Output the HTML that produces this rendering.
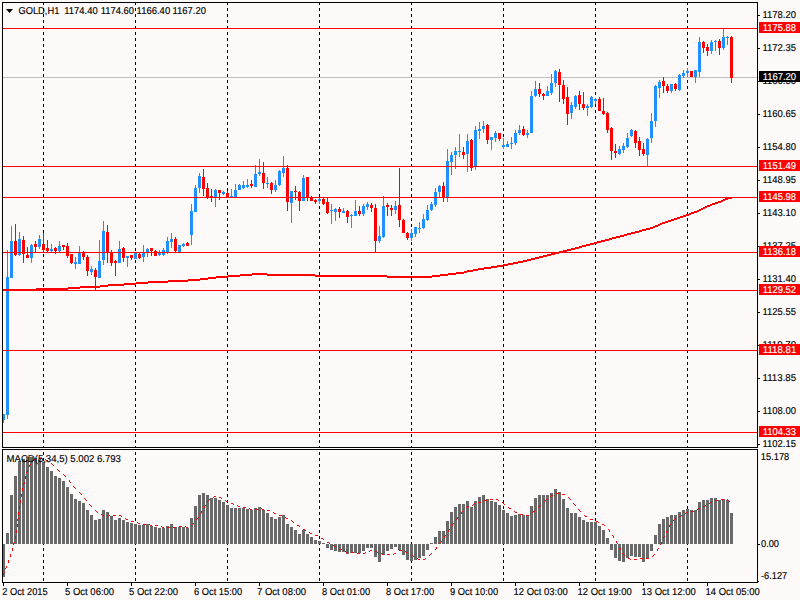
<!DOCTYPE html>
<html><head><meta charset="utf-8"><style>html,body{margin:0;padding:0;background:#fffafa;width:800px;height:600px;overflow:hidden}svg{display:block}</style></head>
<body><svg width="800" height="600" viewBox="0 0 800 600" shape-rendering="crispEdges">
<rect x="0" y="0" width="800" height="600" fill="#fffafa"/>
<rect x="43" y="3" width="1" height="2" fill="#000"/>
<rect x="43" y="8" width="1" height="3" fill="#000"/>
<rect x="43" y="14" width="1" height="3" fill="#000"/>
<rect x="43" y="20" width="1" height="3" fill="#000"/>
<rect x="43" y="26" width="1" height="3" fill="#000"/>
<rect x="43" y="32" width="1" height="3" fill="#000"/>
<rect x="43" y="38" width="1" height="3" fill="#000"/>
<rect x="43" y="44" width="1" height="3" fill="#000"/>
<rect x="43" y="50" width="1" height="3" fill="#000"/>
<rect x="43" y="56" width="1" height="3" fill="#000"/>
<rect x="43" y="62" width="1" height="3" fill="#000"/>
<rect x="43" y="68" width="1" height="3" fill="#000"/>
<rect x="43" y="74" width="1" height="3" fill="#000"/>
<rect x="43" y="80" width="1" height="3" fill="#000"/>
<rect x="43" y="86" width="1" height="3" fill="#000"/>
<rect x="43" y="92" width="1" height="3" fill="#000"/>
<rect x="43" y="98" width="1" height="3" fill="#000"/>
<rect x="43" y="104" width="1" height="3" fill="#000"/>
<rect x="43" y="110" width="1" height="3" fill="#000"/>
<rect x="43" y="116" width="1" height="3" fill="#000"/>
<rect x="43" y="122" width="1" height="3" fill="#000"/>
<rect x="43" y="128" width="1" height="3" fill="#000"/>
<rect x="43" y="134" width="1" height="3" fill="#000"/>
<rect x="43" y="140" width="1" height="3" fill="#000"/>
<rect x="43" y="146" width="1" height="3" fill="#000"/>
<rect x="43" y="152" width="1" height="3" fill="#000"/>
<rect x="43" y="158" width="1" height="3" fill="#000"/>
<rect x="43" y="164" width="1" height="3" fill="#000"/>
<rect x="43" y="170" width="1" height="3" fill="#000"/>
<rect x="43" y="176" width="1" height="3" fill="#000"/>
<rect x="43" y="182" width="1" height="3" fill="#000"/>
<rect x="43" y="188" width="1" height="3" fill="#000"/>
<rect x="43" y="194" width="1" height="3" fill="#000"/>
<rect x="43" y="200" width="1" height="3" fill="#000"/>
<rect x="43" y="206" width="1" height="3" fill="#000"/>
<rect x="43" y="212" width="1" height="3" fill="#000"/>
<rect x="43" y="218" width="1" height="3" fill="#000"/>
<rect x="43" y="224" width="1" height="3" fill="#000"/>
<rect x="43" y="230" width="1" height="3" fill="#000"/>
<rect x="43" y="236" width="1" height="3" fill="#000"/>
<rect x="43" y="242" width="1" height="3" fill="#000"/>
<rect x="43" y="248" width="1" height="3" fill="#000"/>
<rect x="43" y="254" width="1" height="3" fill="#000"/>
<rect x="43" y="260" width="1" height="3" fill="#000"/>
<rect x="43" y="266" width="1" height="3" fill="#000"/>
<rect x="43" y="272" width="1" height="3" fill="#000"/>
<rect x="43" y="278" width="1" height="3" fill="#000"/>
<rect x="43" y="284" width="1" height="3" fill="#000"/>
<rect x="43" y="290" width="1" height="3" fill="#000"/>
<rect x="43" y="296" width="1" height="3" fill="#000"/>
<rect x="43" y="302" width="1" height="3" fill="#000"/>
<rect x="43" y="308" width="1" height="3" fill="#000"/>
<rect x="43" y="314" width="1" height="3" fill="#000"/>
<rect x="43" y="320" width="1" height="3" fill="#000"/>
<rect x="43" y="326" width="1" height="3" fill="#000"/>
<rect x="43" y="332" width="1" height="3" fill="#000"/>
<rect x="43" y="338" width="1" height="3" fill="#000"/>
<rect x="43" y="344" width="1" height="3" fill="#000"/>
<rect x="43" y="350" width="1" height="3" fill="#000"/>
<rect x="43" y="356" width="1" height="3" fill="#000"/>
<rect x="43" y="362" width="1" height="3" fill="#000"/>
<rect x="43" y="368" width="1" height="3" fill="#000"/>
<rect x="43" y="374" width="1" height="3" fill="#000"/>
<rect x="43" y="380" width="1" height="3" fill="#000"/>
<rect x="43" y="386" width="1" height="3" fill="#000"/>
<rect x="43" y="392" width="1" height="3" fill="#000"/>
<rect x="43" y="398" width="1" height="3" fill="#000"/>
<rect x="43" y="404" width="1" height="3" fill="#000"/>
<rect x="43" y="410" width="1" height="3" fill="#000"/>
<rect x="43" y="416" width="1" height="3" fill="#000"/>
<rect x="43" y="422" width="1" height="3" fill="#000"/>
<rect x="43" y="428" width="1" height="3" fill="#000"/>
<rect x="43" y="434" width="1" height="3" fill="#000"/>
<rect x="43" y="440" width="1" height="3" fill="#000"/>
<rect x="43" y="446" width="1" height="1" fill="#000"/>
<rect x="43" y="452" width="1" height="3" fill="#000"/>
<rect x="43" y="458" width="1" height="3" fill="#000"/>
<rect x="43" y="464" width="1" height="3" fill="#000"/>
<rect x="43" y="470" width="1" height="3" fill="#000"/>
<rect x="43" y="476" width="1" height="3" fill="#000"/>
<rect x="43" y="482" width="1" height="3" fill="#000"/>
<rect x="43" y="488" width="1" height="3" fill="#000"/>
<rect x="43" y="494" width="1" height="3" fill="#000"/>
<rect x="43" y="500" width="1" height="3" fill="#000"/>
<rect x="43" y="506" width="1" height="3" fill="#000"/>
<rect x="43" y="512" width="1" height="3" fill="#000"/>
<rect x="43" y="518" width="1" height="3" fill="#000"/>
<rect x="43" y="524" width="1" height="3" fill="#000"/>
<rect x="43" y="530" width="1" height="3" fill="#000"/>
<rect x="43" y="536" width="1" height="3" fill="#000"/>
<rect x="43" y="542" width="1" height="3" fill="#000"/>
<rect x="43" y="548" width="1" height="3" fill="#000"/>
<rect x="43" y="554" width="1" height="3" fill="#000"/>
<rect x="43" y="560" width="1" height="3" fill="#000"/>
<rect x="43" y="566" width="1" height="3" fill="#000"/>
<rect x="43" y="572" width="1" height="3" fill="#000"/>
<rect x="43" y="578" width="1" height="3" fill="#000"/>
<rect x="135" y="3" width="1" height="2" fill="#000"/>
<rect x="135" y="8" width="1" height="3" fill="#000"/>
<rect x="135" y="14" width="1" height="3" fill="#000"/>
<rect x="135" y="20" width="1" height="3" fill="#000"/>
<rect x="135" y="26" width="1" height="3" fill="#000"/>
<rect x="135" y="32" width="1" height="3" fill="#000"/>
<rect x="135" y="38" width="1" height="3" fill="#000"/>
<rect x="135" y="44" width="1" height="3" fill="#000"/>
<rect x="135" y="50" width="1" height="3" fill="#000"/>
<rect x="135" y="56" width="1" height="3" fill="#000"/>
<rect x="135" y="62" width="1" height="3" fill="#000"/>
<rect x="135" y="68" width="1" height="3" fill="#000"/>
<rect x="135" y="74" width="1" height="3" fill="#000"/>
<rect x="135" y="80" width="1" height="3" fill="#000"/>
<rect x="135" y="86" width="1" height="3" fill="#000"/>
<rect x="135" y="92" width="1" height="3" fill="#000"/>
<rect x="135" y="98" width="1" height="3" fill="#000"/>
<rect x="135" y="104" width="1" height="3" fill="#000"/>
<rect x="135" y="110" width="1" height="3" fill="#000"/>
<rect x="135" y="116" width="1" height="3" fill="#000"/>
<rect x="135" y="122" width="1" height="3" fill="#000"/>
<rect x="135" y="128" width="1" height="3" fill="#000"/>
<rect x="135" y="134" width="1" height="3" fill="#000"/>
<rect x="135" y="140" width="1" height="3" fill="#000"/>
<rect x="135" y="146" width="1" height="3" fill="#000"/>
<rect x="135" y="152" width="1" height="3" fill="#000"/>
<rect x="135" y="158" width="1" height="3" fill="#000"/>
<rect x="135" y="164" width="1" height="3" fill="#000"/>
<rect x="135" y="170" width="1" height="3" fill="#000"/>
<rect x="135" y="176" width="1" height="3" fill="#000"/>
<rect x="135" y="182" width="1" height="3" fill="#000"/>
<rect x="135" y="188" width="1" height="3" fill="#000"/>
<rect x="135" y="194" width="1" height="3" fill="#000"/>
<rect x="135" y="200" width="1" height="3" fill="#000"/>
<rect x="135" y="206" width="1" height="3" fill="#000"/>
<rect x="135" y="212" width="1" height="3" fill="#000"/>
<rect x="135" y="218" width="1" height="3" fill="#000"/>
<rect x="135" y="224" width="1" height="3" fill="#000"/>
<rect x="135" y="230" width="1" height="3" fill="#000"/>
<rect x="135" y="236" width="1" height="3" fill="#000"/>
<rect x="135" y="242" width="1" height="3" fill="#000"/>
<rect x="135" y="248" width="1" height="3" fill="#000"/>
<rect x="135" y="254" width="1" height="3" fill="#000"/>
<rect x="135" y="260" width="1" height="3" fill="#000"/>
<rect x="135" y="266" width="1" height="3" fill="#000"/>
<rect x="135" y="272" width="1" height="3" fill="#000"/>
<rect x="135" y="278" width="1" height="3" fill="#000"/>
<rect x="135" y="284" width="1" height="3" fill="#000"/>
<rect x="135" y="290" width="1" height="3" fill="#000"/>
<rect x="135" y="296" width="1" height="3" fill="#000"/>
<rect x="135" y="302" width="1" height="3" fill="#000"/>
<rect x="135" y="308" width="1" height="3" fill="#000"/>
<rect x="135" y="314" width="1" height="3" fill="#000"/>
<rect x="135" y="320" width="1" height="3" fill="#000"/>
<rect x="135" y="326" width="1" height="3" fill="#000"/>
<rect x="135" y="332" width="1" height="3" fill="#000"/>
<rect x="135" y="338" width="1" height="3" fill="#000"/>
<rect x="135" y="344" width="1" height="3" fill="#000"/>
<rect x="135" y="350" width="1" height="3" fill="#000"/>
<rect x="135" y="356" width="1" height="3" fill="#000"/>
<rect x="135" y="362" width="1" height="3" fill="#000"/>
<rect x="135" y="368" width="1" height="3" fill="#000"/>
<rect x="135" y="374" width="1" height="3" fill="#000"/>
<rect x="135" y="380" width="1" height="3" fill="#000"/>
<rect x="135" y="386" width="1" height="3" fill="#000"/>
<rect x="135" y="392" width="1" height="3" fill="#000"/>
<rect x="135" y="398" width="1" height="3" fill="#000"/>
<rect x="135" y="404" width="1" height="3" fill="#000"/>
<rect x="135" y="410" width="1" height="3" fill="#000"/>
<rect x="135" y="416" width="1" height="3" fill="#000"/>
<rect x="135" y="422" width="1" height="3" fill="#000"/>
<rect x="135" y="428" width="1" height="3" fill="#000"/>
<rect x="135" y="434" width="1" height="3" fill="#000"/>
<rect x="135" y="440" width="1" height="3" fill="#000"/>
<rect x="135" y="446" width="1" height="1" fill="#000"/>
<rect x="135" y="452" width="1" height="3" fill="#000"/>
<rect x="135" y="458" width="1" height="3" fill="#000"/>
<rect x="135" y="464" width="1" height="3" fill="#000"/>
<rect x="135" y="470" width="1" height="3" fill="#000"/>
<rect x="135" y="476" width="1" height="3" fill="#000"/>
<rect x="135" y="482" width="1" height="3" fill="#000"/>
<rect x="135" y="488" width="1" height="3" fill="#000"/>
<rect x="135" y="494" width="1" height="3" fill="#000"/>
<rect x="135" y="500" width="1" height="3" fill="#000"/>
<rect x="135" y="506" width="1" height="3" fill="#000"/>
<rect x="135" y="512" width="1" height="3" fill="#000"/>
<rect x="135" y="518" width="1" height="3" fill="#000"/>
<rect x="135" y="524" width="1" height="3" fill="#000"/>
<rect x="135" y="530" width="1" height="3" fill="#000"/>
<rect x="135" y="536" width="1" height="3" fill="#000"/>
<rect x="135" y="542" width="1" height="3" fill="#000"/>
<rect x="135" y="548" width="1" height="3" fill="#000"/>
<rect x="135" y="554" width="1" height="3" fill="#000"/>
<rect x="135" y="560" width="1" height="3" fill="#000"/>
<rect x="135" y="566" width="1" height="3" fill="#000"/>
<rect x="135" y="572" width="1" height="3" fill="#000"/>
<rect x="135" y="578" width="1" height="3" fill="#000"/>
<rect x="227" y="3" width="1" height="2" fill="#000"/>
<rect x="227" y="8" width="1" height="3" fill="#000"/>
<rect x="227" y="14" width="1" height="3" fill="#000"/>
<rect x="227" y="20" width="1" height="3" fill="#000"/>
<rect x="227" y="26" width="1" height="3" fill="#000"/>
<rect x="227" y="32" width="1" height="3" fill="#000"/>
<rect x="227" y="38" width="1" height="3" fill="#000"/>
<rect x="227" y="44" width="1" height="3" fill="#000"/>
<rect x="227" y="50" width="1" height="3" fill="#000"/>
<rect x="227" y="56" width="1" height="3" fill="#000"/>
<rect x="227" y="62" width="1" height="3" fill="#000"/>
<rect x="227" y="68" width="1" height="3" fill="#000"/>
<rect x="227" y="74" width="1" height="3" fill="#000"/>
<rect x="227" y="80" width="1" height="3" fill="#000"/>
<rect x="227" y="86" width="1" height="3" fill="#000"/>
<rect x="227" y="92" width="1" height="3" fill="#000"/>
<rect x="227" y="98" width="1" height="3" fill="#000"/>
<rect x="227" y="104" width="1" height="3" fill="#000"/>
<rect x="227" y="110" width="1" height="3" fill="#000"/>
<rect x="227" y="116" width="1" height="3" fill="#000"/>
<rect x="227" y="122" width="1" height="3" fill="#000"/>
<rect x="227" y="128" width="1" height="3" fill="#000"/>
<rect x="227" y="134" width="1" height="3" fill="#000"/>
<rect x="227" y="140" width="1" height="3" fill="#000"/>
<rect x="227" y="146" width="1" height="3" fill="#000"/>
<rect x="227" y="152" width="1" height="3" fill="#000"/>
<rect x="227" y="158" width="1" height="3" fill="#000"/>
<rect x="227" y="164" width="1" height="3" fill="#000"/>
<rect x="227" y="170" width="1" height="3" fill="#000"/>
<rect x="227" y="176" width="1" height="3" fill="#000"/>
<rect x="227" y="182" width="1" height="3" fill="#000"/>
<rect x="227" y="188" width="1" height="3" fill="#000"/>
<rect x="227" y="194" width="1" height="3" fill="#000"/>
<rect x="227" y="200" width="1" height="3" fill="#000"/>
<rect x="227" y="206" width="1" height="3" fill="#000"/>
<rect x="227" y="212" width="1" height="3" fill="#000"/>
<rect x="227" y="218" width="1" height="3" fill="#000"/>
<rect x="227" y="224" width="1" height="3" fill="#000"/>
<rect x="227" y="230" width="1" height="3" fill="#000"/>
<rect x="227" y="236" width="1" height="3" fill="#000"/>
<rect x="227" y="242" width="1" height="3" fill="#000"/>
<rect x="227" y="248" width="1" height="3" fill="#000"/>
<rect x="227" y="254" width="1" height="3" fill="#000"/>
<rect x="227" y="260" width="1" height="3" fill="#000"/>
<rect x="227" y="266" width="1" height="3" fill="#000"/>
<rect x="227" y="272" width="1" height="3" fill="#000"/>
<rect x="227" y="278" width="1" height="3" fill="#000"/>
<rect x="227" y="284" width="1" height="3" fill="#000"/>
<rect x="227" y="290" width="1" height="3" fill="#000"/>
<rect x="227" y="296" width="1" height="3" fill="#000"/>
<rect x="227" y="302" width="1" height="3" fill="#000"/>
<rect x="227" y="308" width="1" height="3" fill="#000"/>
<rect x="227" y="314" width="1" height="3" fill="#000"/>
<rect x="227" y="320" width="1" height="3" fill="#000"/>
<rect x="227" y="326" width="1" height="3" fill="#000"/>
<rect x="227" y="332" width="1" height="3" fill="#000"/>
<rect x="227" y="338" width="1" height="3" fill="#000"/>
<rect x="227" y="344" width="1" height="3" fill="#000"/>
<rect x="227" y="350" width="1" height="3" fill="#000"/>
<rect x="227" y="356" width="1" height="3" fill="#000"/>
<rect x="227" y="362" width="1" height="3" fill="#000"/>
<rect x="227" y="368" width="1" height="3" fill="#000"/>
<rect x="227" y="374" width="1" height="3" fill="#000"/>
<rect x="227" y="380" width="1" height="3" fill="#000"/>
<rect x="227" y="386" width="1" height="3" fill="#000"/>
<rect x="227" y="392" width="1" height="3" fill="#000"/>
<rect x="227" y="398" width="1" height="3" fill="#000"/>
<rect x="227" y="404" width="1" height="3" fill="#000"/>
<rect x="227" y="410" width="1" height="3" fill="#000"/>
<rect x="227" y="416" width="1" height="3" fill="#000"/>
<rect x="227" y="422" width="1" height="3" fill="#000"/>
<rect x="227" y="428" width="1" height="3" fill="#000"/>
<rect x="227" y="434" width="1" height="3" fill="#000"/>
<rect x="227" y="440" width="1" height="3" fill="#000"/>
<rect x="227" y="446" width="1" height="1" fill="#000"/>
<rect x="227" y="452" width="1" height="3" fill="#000"/>
<rect x="227" y="458" width="1" height="3" fill="#000"/>
<rect x="227" y="464" width="1" height="3" fill="#000"/>
<rect x="227" y="470" width="1" height="3" fill="#000"/>
<rect x="227" y="476" width="1" height="3" fill="#000"/>
<rect x="227" y="482" width="1" height="3" fill="#000"/>
<rect x="227" y="488" width="1" height="3" fill="#000"/>
<rect x="227" y="494" width="1" height="3" fill="#000"/>
<rect x="227" y="500" width="1" height="3" fill="#000"/>
<rect x="227" y="506" width="1" height="3" fill="#000"/>
<rect x="227" y="512" width="1" height="3" fill="#000"/>
<rect x="227" y="518" width="1" height="3" fill="#000"/>
<rect x="227" y="524" width="1" height="3" fill="#000"/>
<rect x="227" y="530" width="1" height="3" fill="#000"/>
<rect x="227" y="536" width="1" height="3" fill="#000"/>
<rect x="227" y="542" width="1" height="3" fill="#000"/>
<rect x="227" y="548" width="1" height="3" fill="#000"/>
<rect x="227" y="554" width="1" height="3" fill="#000"/>
<rect x="227" y="560" width="1" height="3" fill="#000"/>
<rect x="227" y="566" width="1" height="3" fill="#000"/>
<rect x="227" y="572" width="1" height="3" fill="#000"/>
<rect x="227" y="578" width="1" height="3" fill="#000"/>
<rect x="319" y="3" width="1" height="2" fill="#000"/>
<rect x="319" y="8" width="1" height="3" fill="#000"/>
<rect x="319" y="14" width="1" height="3" fill="#000"/>
<rect x="319" y="20" width="1" height="3" fill="#000"/>
<rect x="319" y="26" width="1" height="3" fill="#000"/>
<rect x="319" y="32" width="1" height="3" fill="#000"/>
<rect x="319" y="38" width="1" height="3" fill="#000"/>
<rect x="319" y="44" width="1" height="3" fill="#000"/>
<rect x="319" y="50" width="1" height="3" fill="#000"/>
<rect x="319" y="56" width="1" height="3" fill="#000"/>
<rect x="319" y="62" width="1" height="3" fill="#000"/>
<rect x="319" y="68" width="1" height="3" fill="#000"/>
<rect x="319" y="74" width="1" height="3" fill="#000"/>
<rect x="319" y="80" width="1" height="3" fill="#000"/>
<rect x="319" y="86" width="1" height="3" fill="#000"/>
<rect x="319" y="92" width="1" height="3" fill="#000"/>
<rect x="319" y="98" width="1" height="3" fill="#000"/>
<rect x="319" y="104" width="1" height="3" fill="#000"/>
<rect x="319" y="110" width="1" height="3" fill="#000"/>
<rect x="319" y="116" width="1" height="3" fill="#000"/>
<rect x="319" y="122" width="1" height="3" fill="#000"/>
<rect x="319" y="128" width="1" height="3" fill="#000"/>
<rect x="319" y="134" width="1" height="3" fill="#000"/>
<rect x="319" y="140" width="1" height="3" fill="#000"/>
<rect x="319" y="146" width="1" height="3" fill="#000"/>
<rect x="319" y="152" width="1" height="3" fill="#000"/>
<rect x="319" y="158" width="1" height="3" fill="#000"/>
<rect x="319" y="164" width="1" height="3" fill="#000"/>
<rect x="319" y="170" width="1" height="3" fill="#000"/>
<rect x="319" y="176" width="1" height="3" fill="#000"/>
<rect x="319" y="182" width="1" height="3" fill="#000"/>
<rect x="319" y="188" width="1" height="3" fill="#000"/>
<rect x="319" y="194" width="1" height="3" fill="#000"/>
<rect x="319" y="200" width="1" height="3" fill="#000"/>
<rect x="319" y="206" width="1" height="3" fill="#000"/>
<rect x="319" y="212" width="1" height="3" fill="#000"/>
<rect x="319" y="218" width="1" height="3" fill="#000"/>
<rect x="319" y="224" width="1" height="3" fill="#000"/>
<rect x="319" y="230" width="1" height="3" fill="#000"/>
<rect x="319" y="236" width="1" height="3" fill="#000"/>
<rect x="319" y="242" width="1" height="3" fill="#000"/>
<rect x="319" y="248" width="1" height="3" fill="#000"/>
<rect x="319" y="254" width="1" height="3" fill="#000"/>
<rect x="319" y="260" width="1" height="3" fill="#000"/>
<rect x="319" y="266" width="1" height="3" fill="#000"/>
<rect x="319" y="272" width="1" height="3" fill="#000"/>
<rect x="319" y="278" width="1" height="3" fill="#000"/>
<rect x="319" y="284" width="1" height="3" fill="#000"/>
<rect x="319" y="290" width="1" height="3" fill="#000"/>
<rect x="319" y="296" width="1" height="3" fill="#000"/>
<rect x="319" y="302" width="1" height="3" fill="#000"/>
<rect x="319" y="308" width="1" height="3" fill="#000"/>
<rect x="319" y="314" width="1" height="3" fill="#000"/>
<rect x="319" y="320" width="1" height="3" fill="#000"/>
<rect x="319" y="326" width="1" height="3" fill="#000"/>
<rect x="319" y="332" width="1" height="3" fill="#000"/>
<rect x="319" y="338" width="1" height="3" fill="#000"/>
<rect x="319" y="344" width="1" height="3" fill="#000"/>
<rect x="319" y="350" width="1" height="3" fill="#000"/>
<rect x="319" y="356" width="1" height="3" fill="#000"/>
<rect x="319" y="362" width="1" height="3" fill="#000"/>
<rect x="319" y="368" width="1" height="3" fill="#000"/>
<rect x="319" y="374" width="1" height="3" fill="#000"/>
<rect x="319" y="380" width="1" height="3" fill="#000"/>
<rect x="319" y="386" width="1" height="3" fill="#000"/>
<rect x="319" y="392" width="1" height="3" fill="#000"/>
<rect x="319" y="398" width="1" height="3" fill="#000"/>
<rect x="319" y="404" width="1" height="3" fill="#000"/>
<rect x="319" y="410" width="1" height="3" fill="#000"/>
<rect x="319" y="416" width="1" height="3" fill="#000"/>
<rect x="319" y="422" width="1" height="3" fill="#000"/>
<rect x="319" y="428" width="1" height="3" fill="#000"/>
<rect x="319" y="434" width="1" height="3" fill="#000"/>
<rect x="319" y="440" width="1" height="3" fill="#000"/>
<rect x="319" y="446" width="1" height="1" fill="#000"/>
<rect x="319" y="452" width="1" height="3" fill="#000"/>
<rect x="319" y="458" width="1" height="3" fill="#000"/>
<rect x="319" y="464" width="1" height="3" fill="#000"/>
<rect x="319" y="470" width="1" height="3" fill="#000"/>
<rect x="319" y="476" width="1" height="3" fill="#000"/>
<rect x="319" y="482" width="1" height="3" fill="#000"/>
<rect x="319" y="488" width="1" height="3" fill="#000"/>
<rect x="319" y="494" width="1" height="3" fill="#000"/>
<rect x="319" y="500" width="1" height="3" fill="#000"/>
<rect x="319" y="506" width="1" height="3" fill="#000"/>
<rect x="319" y="512" width="1" height="3" fill="#000"/>
<rect x="319" y="518" width="1" height="3" fill="#000"/>
<rect x="319" y="524" width="1" height="3" fill="#000"/>
<rect x="319" y="530" width="1" height="3" fill="#000"/>
<rect x="319" y="536" width="1" height="3" fill="#000"/>
<rect x="319" y="542" width="1" height="3" fill="#000"/>
<rect x="319" y="548" width="1" height="3" fill="#000"/>
<rect x="319" y="554" width="1" height="3" fill="#000"/>
<rect x="319" y="560" width="1" height="3" fill="#000"/>
<rect x="319" y="566" width="1" height="3" fill="#000"/>
<rect x="319" y="572" width="1" height="3" fill="#000"/>
<rect x="319" y="578" width="1" height="3" fill="#000"/>
<rect x="411" y="3" width="1" height="2" fill="#000"/>
<rect x="411" y="8" width="1" height="3" fill="#000"/>
<rect x="411" y="14" width="1" height="3" fill="#000"/>
<rect x="411" y="20" width="1" height="3" fill="#000"/>
<rect x="411" y="26" width="1" height="3" fill="#000"/>
<rect x="411" y="32" width="1" height="3" fill="#000"/>
<rect x="411" y="38" width="1" height="3" fill="#000"/>
<rect x="411" y="44" width="1" height="3" fill="#000"/>
<rect x="411" y="50" width="1" height="3" fill="#000"/>
<rect x="411" y="56" width="1" height="3" fill="#000"/>
<rect x="411" y="62" width="1" height="3" fill="#000"/>
<rect x="411" y="68" width="1" height="3" fill="#000"/>
<rect x="411" y="74" width="1" height="3" fill="#000"/>
<rect x="411" y="80" width="1" height="3" fill="#000"/>
<rect x="411" y="86" width="1" height="3" fill="#000"/>
<rect x="411" y="92" width="1" height="3" fill="#000"/>
<rect x="411" y="98" width="1" height="3" fill="#000"/>
<rect x="411" y="104" width="1" height="3" fill="#000"/>
<rect x="411" y="110" width="1" height="3" fill="#000"/>
<rect x="411" y="116" width="1" height="3" fill="#000"/>
<rect x="411" y="122" width="1" height="3" fill="#000"/>
<rect x="411" y="128" width="1" height="3" fill="#000"/>
<rect x="411" y="134" width="1" height="3" fill="#000"/>
<rect x="411" y="140" width="1" height="3" fill="#000"/>
<rect x="411" y="146" width="1" height="3" fill="#000"/>
<rect x="411" y="152" width="1" height="3" fill="#000"/>
<rect x="411" y="158" width="1" height="3" fill="#000"/>
<rect x="411" y="164" width="1" height="3" fill="#000"/>
<rect x="411" y="170" width="1" height="3" fill="#000"/>
<rect x="411" y="176" width="1" height="3" fill="#000"/>
<rect x="411" y="182" width="1" height="3" fill="#000"/>
<rect x="411" y="188" width="1" height="3" fill="#000"/>
<rect x="411" y="194" width="1" height="3" fill="#000"/>
<rect x="411" y="200" width="1" height="3" fill="#000"/>
<rect x="411" y="206" width="1" height="3" fill="#000"/>
<rect x="411" y="212" width="1" height="3" fill="#000"/>
<rect x="411" y="218" width="1" height="3" fill="#000"/>
<rect x="411" y="224" width="1" height="3" fill="#000"/>
<rect x="411" y="230" width="1" height="3" fill="#000"/>
<rect x="411" y="236" width="1" height="3" fill="#000"/>
<rect x="411" y="242" width="1" height="3" fill="#000"/>
<rect x="411" y="248" width="1" height="3" fill="#000"/>
<rect x="411" y="254" width="1" height="3" fill="#000"/>
<rect x="411" y="260" width="1" height="3" fill="#000"/>
<rect x="411" y="266" width="1" height="3" fill="#000"/>
<rect x="411" y="272" width="1" height="3" fill="#000"/>
<rect x="411" y="278" width="1" height="3" fill="#000"/>
<rect x="411" y="284" width="1" height="3" fill="#000"/>
<rect x="411" y="290" width="1" height="3" fill="#000"/>
<rect x="411" y="296" width="1" height="3" fill="#000"/>
<rect x="411" y="302" width="1" height="3" fill="#000"/>
<rect x="411" y="308" width="1" height="3" fill="#000"/>
<rect x="411" y="314" width="1" height="3" fill="#000"/>
<rect x="411" y="320" width="1" height="3" fill="#000"/>
<rect x="411" y="326" width="1" height="3" fill="#000"/>
<rect x="411" y="332" width="1" height="3" fill="#000"/>
<rect x="411" y="338" width="1" height="3" fill="#000"/>
<rect x="411" y="344" width="1" height="3" fill="#000"/>
<rect x="411" y="350" width="1" height="3" fill="#000"/>
<rect x="411" y="356" width="1" height="3" fill="#000"/>
<rect x="411" y="362" width="1" height="3" fill="#000"/>
<rect x="411" y="368" width="1" height="3" fill="#000"/>
<rect x="411" y="374" width="1" height="3" fill="#000"/>
<rect x="411" y="380" width="1" height="3" fill="#000"/>
<rect x="411" y="386" width="1" height="3" fill="#000"/>
<rect x="411" y="392" width="1" height="3" fill="#000"/>
<rect x="411" y="398" width="1" height="3" fill="#000"/>
<rect x="411" y="404" width="1" height="3" fill="#000"/>
<rect x="411" y="410" width="1" height="3" fill="#000"/>
<rect x="411" y="416" width="1" height="3" fill="#000"/>
<rect x="411" y="422" width="1" height="3" fill="#000"/>
<rect x="411" y="428" width="1" height="3" fill="#000"/>
<rect x="411" y="434" width="1" height="3" fill="#000"/>
<rect x="411" y="440" width="1" height="3" fill="#000"/>
<rect x="411" y="446" width="1" height="1" fill="#000"/>
<rect x="411" y="452" width="1" height="3" fill="#000"/>
<rect x="411" y="458" width="1" height="3" fill="#000"/>
<rect x="411" y="464" width="1" height="3" fill="#000"/>
<rect x="411" y="470" width="1" height="3" fill="#000"/>
<rect x="411" y="476" width="1" height="3" fill="#000"/>
<rect x="411" y="482" width="1" height="3" fill="#000"/>
<rect x="411" y="488" width="1" height="3" fill="#000"/>
<rect x="411" y="494" width="1" height="3" fill="#000"/>
<rect x="411" y="500" width="1" height="3" fill="#000"/>
<rect x="411" y="506" width="1" height="3" fill="#000"/>
<rect x="411" y="512" width="1" height="3" fill="#000"/>
<rect x="411" y="518" width="1" height="3" fill="#000"/>
<rect x="411" y="524" width="1" height="3" fill="#000"/>
<rect x="411" y="530" width="1" height="3" fill="#000"/>
<rect x="411" y="536" width="1" height="3" fill="#000"/>
<rect x="411" y="542" width="1" height="3" fill="#000"/>
<rect x="411" y="548" width="1" height="3" fill="#000"/>
<rect x="411" y="554" width="1" height="3" fill="#000"/>
<rect x="411" y="560" width="1" height="3" fill="#000"/>
<rect x="411" y="566" width="1" height="3" fill="#000"/>
<rect x="411" y="572" width="1" height="3" fill="#000"/>
<rect x="411" y="578" width="1" height="3" fill="#000"/>
<rect x="503" y="3" width="1" height="2" fill="#000"/>
<rect x="503" y="8" width="1" height="3" fill="#000"/>
<rect x="503" y="14" width="1" height="3" fill="#000"/>
<rect x="503" y="20" width="1" height="3" fill="#000"/>
<rect x="503" y="26" width="1" height="3" fill="#000"/>
<rect x="503" y="32" width="1" height="3" fill="#000"/>
<rect x="503" y="38" width="1" height="3" fill="#000"/>
<rect x="503" y="44" width="1" height="3" fill="#000"/>
<rect x="503" y="50" width="1" height="3" fill="#000"/>
<rect x="503" y="56" width="1" height="3" fill="#000"/>
<rect x="503" y="62" width="1" height="3" fill="#000"/>
<rect x="503" y="68" width="1" height="3" fill="#000"/>
<rect x="503" y="74" width="1" height="3" fill="#000"/>
<rect x="503" y="80" width="1" height="3" fill="#000"/>
<rect x="503" y="86" width="1" height="3" fill="#000"/>
<rect x="503" y="92" width="1" height="3" fill="#000"/>
<rect x="503" y="98" width="1" height="3" fill="#000"/>
<rect x="503" y="104" width="1" height="3" fill="#000"/>
<rect x="503" y="110" width="1" height="3" fill="#000"/>
<rect x="503" y="116" width="1" height="3" fill="#000"/>
<rect x="503" y="122" width="1" height="3" fill="#000"/>
<rect x="503" y="128" width="1" height="3" fill="#000"/>
<rect x="503" y="134" width="1" height="3" fill="#000"/>
<rect x="503" y="140" width="1" height="3" fill="#000"/>
<rect x="503" y="146" width="1" height="3" fill="#000"/>
<rect x="503" y="152" width="1" height="3" fill="#000"/>
<rect x="503" y="158" width="1" height="3" fill="#000"/>
<rect x="503" y="164" width="1" height="3" fill="#000"/>
<rect x="503" y="170" width="1" height="3" fill="#000"/>
<rect x="503" y="176" width="1" height="3" fill="#000"/>
<rect x="503" y="182" width="1" height="3" fill="#000"/>
<rect x="503" y="188" width="1" height="3" fill="#000"/>
<rect x="503" y="194" width="1" height="3" fill="#000"/>
<rect x="503" y="200" width="1" height="3" fill="#000"/>
<rect x="503" y="206" width="1" height="3" fill="#000"/>
<rect x="503" y="212" width="1" height="3" fill="#000"/>
<rect x="503" y="218" width="1" height="3" fill="#000"/>
<rect x="503" y="224" width="1" height="3" fill="#000"/>
<rect x="503" y="230" width="1" height="3" fill="#000"/>
<rect x="503" y="236" width="1" height="3" fill="#000"/>
<rect x="503" y="242" width="1" height="3" fill="#000"/>
<rect x="503" y="248" width="1" height="3" fill="#000"/>
<rect x="503" y="254" width="1" height="3" fill="#000"/>
<rect x="503" y="260" width="1" height="3" fill="#000"/>
<rect x="503" y="266" width="1" height="3" fill="#000"/>
<rect x="503" y="272" width="1" height="3" fill="#000"/>
<rect x="503" y="278" width="1" height="3" fill="#000"/>
<rect x="503" y="284" width="1" height="3" fill="#000"/>
<rect x="503" y="290" width="1" height="3" fill="#000"/>
<rect x="503" y="296" width="1" height="3" fill="#000"/>
<rect x="503" y="302" width="1" height="3" fill="#000"/>
<rect x="503" y="308" width="1" height="3" fill="#000"/>
<rect x="503" y="314" width="1" height="3" fill="#000"/>
<rect x="503" y="320" width="1" height="3" fill="#000"/>
<rect x="503" y="326" width="1" height="3" fill="#000"/>
<rect x="503" y="332" width="1" height="3" fill="#000"/>
<rect x="503" y="338" width="1" height="3" fill="#000"/>
<rect x="503" y="344" width="1" height="3" fill="#000"/>
<rect x="503" y="350" width="1" height="3" fill="#000"/>
<rect x="503" y="356" width="1" height="3" fill="#000"/>
<rect x="503" y="362" width="1" height="3" fill="#000"/>
<rect x="503" y="368" width="1" height="3" fill="#000"/>
<rect x="503" y="374" width="1" height="3" fill="#000"/>
<rect x="503" y="380" width="1" height="3" fill="#000"/>
<rect x="503" y="386" width="1" height="3" fill="#000"/>
<rect x="503" y="392" width="1" height="3" fill="#000"/>
<rect x="503" y="398" width="1" height="3" fill="#000"/>
<rect x="503" y="404" width="1" height="3" fill="#000"/>
<rect x="503" y="410" width="1" height="3" fill="#000"/>
<rect x="503" y="416" width="1" height="3" fill="#000"/>
<rect x="503" y="422" width="1" height="3" fill="#000"/>
<rect x="503" y="428" width="1" height="3" fill="#000"/>
<rect x="503" y="434" width="1" height="3" fill="#000"/>
<rect x="503" y="440" width="1" height="3" fill="#000"/>
<rect x="503" y="446" width="1" height="1" fill="#000"/>
<rect x="503" y="452" width="1" height="3" fill="#000"/>
<rect x="503" y="458" width="1" height="3" fill="#000"/>
<rect x="503" y="464" width="1" height="3" fill="#000"/>
<rect x="503" y="470" width="1" height="3" fill="#000"/>
<rect x="503" y="476" width="1" height="3" fill="#000"/>
<rect x="503" y="482" width="1" height="3" fill="#000"/>
<rect x="503" y="488" width="1" height="3" fill="#000"/>
<rect x="503" y="494" width="1" height="3" fill="#000"/>
<rect x="503" y="500" width="1" height="3" fill="#000"/>
<rect x="503" y="506" width="1" height="3" fill="#000"/>
<rect x="503" y="512" width="1" height="3" fill="#000"/>
<rect x="503" y="518" width="1" height="3" fill="#000"/>
<rect x="503" y="524" width="1" height="3" fill="#000"/>
<rect x="503" y="530" width="1" height="3" fill="#000"/>
<rect x="503" y="536" width="1" height="3" fill="#000"/>
<rect x="503" y="542" width="1" height="3" fill="#000"/>
<rect x="503" y="548" width="1" height="3" fill="#000"/>
<rect x="503" y="554" width="1" height="3" fill="#000"/>
<rect x="503" y="560" width="1" height="3" fill="#000"/>
<rect x="503" y="566" width="1" height="3" fill="#000"/>
<rect x="503" y="572" width="1" height="3" fill="#000"/>
<rect x="503" y="578" width="1" height="3" fill="#000"/>
<rect x="595" y="3" width="1" height="2" fill="#000"/>
<rect x="595" y="8" width="1" height="3" fill="#000"/>
<rect x="595" y="14" width="1" height="3" fill="#000"/>
<rect x="595" y="20" width="1" height="3" fill="#000"/>
<rect x="595" y="26" width="1" height="3" fill="#000"/>
<rect x="595" y="32" width="1" height="3" fill="#000"/>
<rect x="595" y="38" width="1" height="3" fill="#000"/>
<rect x="595" y="44" width="1" height="3" fill="#000"/>
<rect x="595" y="50" width="1" height="3" fill="#000"/>
<rect x="595" y="56" width="1" height="3" fill="#000"/>
<rect x="595" y="62" width="1" height="3" fill="#000"/>
<rect x="595" y="68" width="1" height="3" fill="#000"/>
<rect x="595" y="74" width="1" height="3" fill="#000"/>
<rect x="595" y="80" width="1" height="3" fill="#000"/>
<rect x="595" y="86" width="1" height="3" fill="#000"/>
<rect x="595" y="92" width="1" height="3" fill="#000"/>
<rect x="595" y="98" width="1" height="3" fill="#000"/>
<rect x="595" y="104" width="1" height="3" fill="#000"/>
<rect x="595" y="110" width="1" height="3" fill="#000"/>
<rect x="595" y="116" width="1" height="3" fill="#000"/>
<rect x="595" y="122" width="1" height="3" fill="#000"/>
<rect x="595" y="128" width="1" height="3" fill="#000"/>
<rect x="595" y="134" width="1" height="3" fill="#000"/>
<rect x="595" y="140" width="1" height="3" fill="#000"/>
<rect x="595" y="146" width="1" height="3" fill="#000"/>
<rect x="595" y="152" width="1" height="3" fill="#000"/>
<rect x="595" y="158" width="1" height="3" fill="#000"/>
<rect x="595" y="164" width="1" height="3" fill="#000"/>
<rect x="595" y="170" width="1" height="3" fill="#000"/>
<rect x="595" y="176" width="1" height="3" fill="#000"/>
<rect x="595" y="182" width="1" height="3" fill="#000"/>
<rect x="595" y="188" width="1" height="3" fill="#000"/>
<rect x="595" y="194" width="1" height="3" fill="#000"/>
<rect x="595" y="200" width="1" height="3" fill="#000"/>
<rect x="595" y="206" width="1" height="3" fill="#000"/>
<rect x="595" y="212" width="1" height="3" fill="#000"/>
<rect x="595" y="218" width="1" height="3" fill="#000"/>
<rect x="595" y="224" width="1" height="3" fill="#000"/>
<rect x="595" y="230" width="1" height="3" fill="#000"/>
<rect x="595" y="236" width="1" height="3" fill="#000"/>
<rect x="595" y="242" width="1" height="3" fill="#000"/>
<rect x="595" y="248" width="1" height="3" fill="#000"/>
<rect x="595" y="254" width="1" height="3" fill="#000"/>
<rect x="595" y="260" width="1" height="3" fill="#000"/>
<rect x="595" y="266" width="1" height="3" fill="#000"/>
<rect x="595" y="272" width="1" height="3" fill="#000"/>
<rect x="595" y="278" width="1" height="3" fill="#000"/>
<rect x="595" y="284" width="1" height="3" fill="#000"/>
<rect x="595" y="290" width="1" height="3" fill="#000"/>
<rect x="595" y="296" width="1" height="3" fill="#000"/>
<rect x="595" y="302" width="1" height="3" fill="#000"/>
<rect x="595" y="308" width="1" height="3" fill="#000"/>
<rect x="595" y="314" width="1" height="3" fill="#000"/>
<rect x="595" y="320" width="1" height="3" fill="#000"/>
<rect x="595" y="326" width="1" height="3" fill="#000"/>
<rect x="595" y="332" width="1" height="3" fill="#000"/>
<rect x="595" y="338" width="1" height="3" fill="#000"/>
<rect x="595" y="344" width="1" height="3" fill="#000"/>
<rect x="595" y="350" width="1" height="3" fill="#000"/>
<rect x="595" y="356" width="1" height="3" fill="#000"/>
<rect x="595" y="362" width="1" height="3" fill="#000"/>
<rect x="595" y="368" width="1" height="3" fill="#000"/>
<rect x="595" y="374" width="1" height="3" fill="#000"/>
<rect x="595" y="380" width="1" height="3" fill="#000"/>
<rect x="595" y="386" width="1" height="3" fill="#000"/>
<rect x="595" y="392" width="1" height="3" fill="#000"/>
<rect x="595" y="398" width="1" height="3" fill="#000"/>
<rect x="595" y="404" width="1" height="3" fill="#000"/>
<rect x="595" y="410" width="1" height="3" fill="#000"/>
<rect x="595" y="416" width="1" height="3" fill="#000"/>
<rect x="595" y="422" width="1" height="3" fill="#000"/>
<rect x="595" y="428" width="1" height="3" fill="#000"/>
<rect x="595" y="434" width="1" height="3" fill="#000"/>
<rect x="595" y="440" width="1" height="3" fill="#000"/>
<rect x="595" y="446" width="1" height="1" fill="#000"/>
<rect x="595" y="452" width="1" height="3" fill="#000"/>
<rect x="595" y="458" width="1" height="3" fill="#000"/>
<rect x="595" y="464" width="1" height="3" fill="#000"/>
<rect x="595" y="470" width="1" height="3" fill="#000"/>
<rect x="595" y="476" width="1" height="3" fill="#000"/>
<rect x="595" y="482" width="1" height="3" fill="#000"/>
<rect x="595" y="488" width="1" height="3" fill="#000"/>
<rect x="595" y="494" width="1" height="3" fill="#000"/>
<rect x="595" y="500" width="1" height="3" fill="#000"/>
<rect x="595" y="506" width="1" height="3" fill="#000"/>
<rect x="595" y="512" width="1" height="3" fill="#000"/>
<rect x="595" y="518" width="1" height="3" fill="#000"/>
<rect x="595" y="524" width="1" height="3" fill="#000"/>
<rect x="595" y="530" width="1" height="3" fill="#000"/>
<rect x="595" y="536" width="1" height="3" fill="#000"/>
<rect x="595" y="542" width="1" height="3" fill="#000"/>
<rect x="595" y="548" width="1" height="3" fill="#000"/>
<rect x="595" y="554" width="1" height="3" fill="#000"/>
<rect x="595" y="560" width="1" height="3" fill="#000"/>
<rect x="595" y="566" width="1" height="3" fill="#000"/>
<rect x="595" y="572" width="1" height="3" fill="#000"/>
<rect x="595" y="578" width="1" height="3" fill="#000"/>
<rect x="687" y="3" width="1" height="2" fill="#000"/>
<rect x="687" y="8" width="1" height="3" fill="#000"/>
<rect x="687" y="14" width="1" height="3" fill="#000"/>
<rect x="687" y="20" width="1" height="3" fill="#000"/>
<rect x="687" y="26" width="1" height="3" fill="#000"/>
<rect x="687" y="32" width="1" height="3" fill="#000"/>
<rect x="687" y="38" width="1" height="3" fill="#000"/>
<rect x="687" y="44" width="1" height="3" fill="#000"/>
<rect x="687" y="50" width="1" height="3" fill="#000"/>
<rect x="687" y="56" width="1" height="3" fill="#000"/>
<rect x="687" y="62" width="1" height="3" fill="#000"/>
<rect x="687" y="68" width="1" height="3" fill="#000"/>
<rect x="687" y="74" width="1" height="3" fill="#000"/>
<rect x="687" y="80" width="1" height="3" fill="#000"/>
<rect x="687" y="86" width="1" height="3" fill="#000"/>
<rect x="687" y="92" width="1" height="3" fill="#000"/>
<rect x="687" y="98" width="1" height="3" fill="#000"/>
<rect x="687" y="104" width="1" height="3" fill="#000"/>
<rect x="687" y="110" width="1" height="3" fill="#000"/>
<rect x="687" y="116" width="1" height="3" fill="#000"/>
<rect x="687" y="122" width="1" height="3" fill="#000"/>
<rect x="687" y="128" width="1" height="3" fill="#000"/>
<rect x="687" y="134" width="1" height="3" fill="#000"/>
<rect x="687" y="140" width="1" height="3" fill="#000"/>
<rect x="687" y="146" width="1" height="3" fill="#000"/>
<rect x="687" y="152" width="1" height="3" fill="#000"/>
<rect x="687" y="158" width="1" height="3" fill="#000"/>
<rect x="687" y="164" width="1" height="3" fill="#000"/>
<rect x="687" y="170" width="1" height="3" fill="#000"/>
<rect x="687" y="176" width="1" height="3" fill="#000"/>
<rect x="687" y="182" width="1" height="3" fill="#000"/>
<rect x="687" y="188" width="1" height="3" fill="#000"/>
<rect x="687" y="194" width="1" height="3" fill="#000"/>
<rect x="687" y="200" width="1" height="3" fill="#000"/>
<rect x="687" y="206" width="1" height="3" fill="#000"/>
<rect x="687" y="212" width="1" height="3" fill="#000"/>
<rect x="687" y="218" width="1" height="3" fill="#000"/>
<rect x="687" y="224" width="1" height="3" fill="#000"/>
<rect x="687" y="230" width="1" height="3" fill="#000"/>
<rect x="687" y="236" width="1" height="3" fill="#000"/>
<rect x="687" y="242" width="1" height="3" fill="#000"/>
<rect x="687" y="248" width="1" height="3" fill="#000"/>
<rect x="687" y="254" width="1" height="3" fill="#000"/>
<rect x="687" y="260" width="1" height="3" fill="#000"/>
<rect x="687" y="266" width="1" height="3" fill="#000"/>
<rect x="687" y="272" width="1" height="3" fill="#000"/>
<rect x="687" y="278" width="1" height="3" fill="#000"/>
<rect x="687" y="284" width="1" height="3" fill="#000"/>
<rect x="687" y="290" width="1" height="3" fill="#000"/>
<rect x="687" y="296" width="1" height="3" fill="#000"/>
<rect x="687" y="302" width="1" height="3" fill="#000"/>
<rect x="687" y="308" width="1" height="3" fill="#000"/>
<rect x="687" y="314" width="1" height="3" fill="#000"/>
<rect x="687" y="320" width="1" height="3" fill="#000"/>
<rect x="687" y="326" width="1" height="3" fill="#000"/>
<rect x="687" y="332" width="1" height="3" fill="#000"/>
<rect x="687" y="338" width="1" height="3" fill="#000"/>
<rect x="687" y="344" width="1" height="3" fill="#000"/>
<rect x="687" y="350" width="1" height="3" fill="#000"/>
<rect x="687" y="356" width="1" height="3" fill="#000"/>
<rect x="687" y="362" width="1" height="3" fill="#000"/>
<rect x="687" y="368" width="1" height="3" fill="#000"/>
<rect x="687" y="374" width="1" height="3" fill="#000"/>
<rect x="687" y="380" width="1" height="3" fill="#000"/>
<rect x="687" y="386" width="1" height="3" fill="#000"/>
<rect x="687" y="392" width="1" height="3" fill="#000"/>
<rect x="687" y="398" width="1" height="3" fill="#000"/>
<rect x="687" y="404" width="1" height="3" fill="#000"/>
<rect x="687" y="410" width="1" height="3" fill="#000"/>
<rect x="687" y="416" width="1" height="3" fill="#000"/>
<rect x="687" y="422" width="1" height="3" fill="#000"/>
<rect x="687" y="428" width="1" height="3" fill="#000"/>
<rect x="687" y="434" width="1" height="3" fill="#000"/>
<rect x="687" y="440" width="1" height="3" fill="#000"/>
<rect x="687" y="446" width="1" height="1" fill="#000"/>
<rect x="687" y="452" width="1" height="3" fill="#000"/>
<rect x="687" y="458" width="1" height="3" fill="#000"/>
<rect x="687" y="464" width="1" height="3" fill="#000"/>
<rect x="687" y="470" width="1" height="3" fill="#000"/>
<rect x="687" y="476" width="1" height="3" fill="#000"/>
<rect x="687" y="482" width="1" height="3" fill="#000"/>
<rect x="687" y="488" width="1" height="3" fill="#000"/>
<rect x="687" y="494" width="1" height="3" fill="#000"/>
<rect x="687" y="500" width="1" height="3" fill="#000"/>
<rect x="687" y="506" width="1" height="3" fill="#000"/>
<rect x="687" y="512" width="1" height="3" fill="#000"/>
<rect x="687" y="518" width="1" height="3" fill="#000"/>
<rect x="687" y="524" width="1" height="3" fill="#000"/>
<rect x="687" y="530" width="1" height="3" fill="#000"/>
<rect x="687" y="536" width="1" height="3" fill="#000"/>
<rect x="687" y="542" width="1" height="3" fill="#000"/>
<rect x="687" y="548" width="1" height="3" fill="#000"/>
<rect x="687" y="554" width="1" height="3" fill="#000"/>
<rect x="687" y="560" width="1" height="3" fill="#000"/>
<rect x="687" y="566" width="1" height="3" fill="#000"/>
<rect x="687" y="572" width="1" height="3" fill="#000"/>
<rect x="687" y="578" width="1" height="3" fill="#000"/>
<rect x="3" y="77" width="755" height="1" fill="#c0c0c0"/>
<rect x="3" y="414" width="1" height="9" fill="#1e90ff"/>
<rect x="2" y="414" width="3" height="6" fill="#1e90ff"/>
<rect x="7" y="250" width="1" height="169" fill="#1e90ff"/>
<rect x="6" y="277" width="3" height="138" fill="#1e90ff"/>
<rect x="11" y="226" width="1" height="52" fill="#1e90ff"/>
<rect x="10" y="241" width="3" height="37" fill="#1e90ff"/>
<rect x="15" y="224" width="1" height="32" fill="#ff0000"/>
<rect x="14" y="241" width="3" height="14" fill="#ff0000"/>
<rect x="19" y="232" width="1" height="24" fill="#1e90ff"/>
<rect x="18" y="239" width="3" height="16" fill="#1e90ff"/>
<rect x="23" y="236" width="1" height="27" fill="#ff0000"/>
<rect x="22" y="240" width="3" height="14" fill="#ff0000"/>
<rect x="27" y="247" width="1" height="11" fill="#ff0000"/>
<rect x="26" y="255" width="3" height="3" fill="#ff0000"/>
<rect x="31" y="244" width="1" height="19" fill="#1e90ff"/>
<rect x="30" y="245" width="3" height="13" fill="#1e90ff"/>
<rect x="35" y="241" width="1" height="11" fill="#ff0000"/>
<rect x="34" y="244" width="3" height="3" fill="#ff0000"/>
<rect x="39" y="235" width="1" height="14" fill="#1e90ff"/>
<rect x="38" y="239" width="3" height="8" fill="#1e90ff"/>
<rect x="43" y="233" width="1" height="19" fill="#ff0000"/>
<rect x="42" y="244" width="3" height="6" fill="#ff0000"/>
<rect x="47" y="240" width="1" height="12" fill="#ff0000"/>
<rect x="46" y="248" width="3" height="3" fill="#ff0000"/>
<rect x="51" y="244" width="1" height="8" fill="#1e90ff"/>
<rect x="50" y="249" width="3" height="2" fill="#1e90ff"/>
<rect x="55" y="247" width="1" height="7" fill="#ff0000"/>
<rect x="54" y="248" width="3" height="3" fill="#ff0000"/>
<rect x="59" y="241" width="1" height="11" fill="#1e90ff"/>
<rect x="58" y="246" width="3" height="5" fill="#1e90ff"/>
<rect x="63" y="245" width="1" height="5" fill="#ff0000"/>
<rect x="62" y="245" width="3" height="2" fill="#ff0000"/>
<rect x="67" y="243" width="1" height="15" fill="#ff0000"/>
<rect x="66" y="246" width="3" height="10" fill="#ff0000"/>
<rect x="71" y="254" width="1" height="10" fill="#ff0000"/>
<rect x="70" y="254" width="3" height="9" fill="#ff0000"/>
<rect x="75" y="257" width="1" height="12" fill="#1e90ff"/>
<rect x="74" y="262" width="3" height="2" fill="#1e90ff"/>
<rect x="79" y="246" width="1" height="18" fill="#1e90ff"/>
<rect x="78" y="253" width="3" height="11" fill="#1e90ff"/>
<rect x="83" y="251" width="1" height="9" fill="#ff0000"/>
<rect x="82" y="253" width="3" height="4" fill="#ff0000"/>
<rect x="87" y="255" width="1" height="21" fill="#ff0000"/>
<rect x="86" y="257" width="3" height="14" fill="#ff0000"/>
<rect x="91" y="266" width="1" height="9" fill="#1e90ff"/>
<rect x="90" y="269" width="3" height="3" fill="#1e90ff"/>
<rect x="95" y="268" width="1" height="22" fill="#ff0000"/>
<rect x="94" y="270" width="3" height="7" fill="#ff0000"/>
<rect x="99" y="240" width="1" height="38" fill="#1e90ff"/>
<rect x="98" y="261" width="3" height="17" fill="#1e90ff"/>
<rect x="103" y="221" width="1" height="44" fill="#1e90ff"/>
<rect x="102" y="231" width="3" height="29" fill="#1e90ff"/>
<rect x="107" y="225" width="1" height="38" fill="#ff0000"/>
<rect x="106" y="232" width="3" height="20" fill="#ff0000"/>
<rect x="111" y="250" width="1" height="16" fill="#ff0000"/>
<rect x="110" y="252" width="3" height="11" fill="#ff0000"/>
<rect x="115" y="260" width="1" height="16" fill="#ff0000"/>
<rect x="114" y="261" width="3" height="2" fill="#ff0000"/>
<rect x="119" y="241" width="1" height="22" fill="#1e90ff"/>
<rect x="118" y="249" width="3" height="14" fill="#1e90ff"/>
<rect x="123" y="247" width="1" height="15" fill="#ff0000"/>
<rect x="122" y="248" width="3" height="10" fill="#ff0000"/>
<rect x="127" y="256" width="1" height="11" fill="#1e90ff"/>
<rect x="126" y="256" width="3" height="2" fill="#1e90ff"/>
<rect x="131" y="255" width="1" height="5" fill="#ff0000"/>
<rect x="130" y="255" width="3" height="3" fill="#ff0000"/>
<rect x="135" y="252" width="1" height="7" fill="#1e90ff"/>
<rect x="134" y="253" width="3" height="6" fill="#1e90ff"/>
<rect x="139" y="253" width="1" height="6" fill="#ff0000"/>
<rect x="138" y="254" width="3" height="4" fill="#ff0000"/>
<rect x="143" y="245" width="1" height="17" fill="#1e90ff"/>
<rect x="142" y="252" width="3" height="5" fill="#1e90ff"/>
<rect x="147" y="248" width="1" height="9" fill="#1e90ff"/>
<rect x="146" y="249" width="3" height="3" fill="#1e90ff"/>
<rect x="151" y="248" width="1" height="8" fill="#ff0000"/>
<rect x="150" y="248" width="3" height="3" fill="#ff0000"/>
<rect x="155" y="250" width="1" height="6" fill="#ff0000"/>
<rect x="154" y="251" width="3" height="5" fill="#ff0000"/>
<rect x="159" y="250" width="1" height="6" fill="#1e90ff"/>
<rect x="158" y="253" width="3" height="2" fill="#1e90ff"/>
<rect x="163" y="248" width="1" height="8" fill="#1e90ff"/>
<rect x="162" y="250" width="3" height="5" fill="#1e90ff"/>
<rect x="167" y="237" width="1" height="17" fill="#1e90ff"/>
<rect x="166" y="241" width="3" height="12" fill="#1e90ff"/>
<rect x="171" y="233" width="1" height="15" fill="#1e90ff"/>
<rect x="170" y="239" width="3" height="3" fill="#1e90ff"/>
<rect x="175" y="237" width="1" height="15" fill="#ff0000"/>
<rect x="174" y="239" width="3" height="12" fill="#ff0000"/>
<rect x="179" y="245" width="1" height="8" fill="#1e90ff"/>
<rect x="178" y="245" width="3" height="7" fill="#1e90ff"/>
<rect x="183" y="243" width="1" height="4" fill="#1e90ff"/>
<rect x="182" y="244" width="3" height="2" fill="#1e90ff"/>
<rect x="187" y="242" width="1" height="4" fill="#ff0000"/>
<rect x="186" y="243" width="3" height="3" fill="#ff0000"/>
<rect x="191" y="204" width="1" height="41" fill="#1e90ff"/>
<rect x="190" y="211" width="3" height="24" fill="#1e90ff"/>
<rect x="195" y="185" width="1" height="27" fill="#1e90ff"/>
<rect x="194" y="188" width="3" height="24" fill="#1e90ff"/>
<rect x="199" y="173" width="1" height="20" fill="#1e90ff"/>
<rect x="198" y="176" width="3" height="12" fill="#1e90ff"/>
<rect x="203" y="169" width="1" height="27" fill="#ff0000"/>
<rect x="202" y="177" width="3" height="12" fill="#ff0000"/>
<rect x="207" y="183" width="1" height="16" fill="#ff0000"/>
<rect x="206" y="188" width="3" height="10" fill="#ff0000"/>
<rect x="211" y="189" width="1" height="13" fill="#ff0000"/>
<rect x="210" y="196" width="3" height="1" fill="#ff0000"/>
<rect x="215" y="189" width="1" height="18" fill="#1e90ff"/>
<rect x="214" y="190" width="3" height="7" fill="#1e90ff"/>
<rect x="219" y="190" width="1" height="10" fill="#ff0000"/>
<rect x="218" y="190" width="3" height="3" fill="#ff0000"/>
<rect x="223" y="191" width="1" height="4" fill="#1e90ff"/>
<rect x="222" y="192" width="3" height="2" fill="#1e90ff"/>
<rect x="227" y="191" width="1" height="7" fill="#ff0000"/>
<rect x="226" y="193" width="3" height="4" fill="#ff0000"/>
<rect x="231" y="189" width="1" height="8" fill="#1e90ff"/>
<rect x="230" y="196" width="3" height="1" fill="#1e90ff"/>
<rect x="235" y="184" width="1" height="13" fill="#1e90ff"/>
<rect x="234" y="190" width="3" height="7" fill="#1e90ff"/>
<rect x="239" y="184" width="1" height="6" fill="#1e90ff"/>
<rect x="238" y="185" width="3" height="5" fill="#1e90ff"/>
<rect x="243" y="181" width="1" height="8" fill="#1e90ff"/>
<rect x="242" y="185" width="3" height="3" fill="#1e90ff"/>
<rect x="247" y="179" width="1" height="9" fill="#1e90ff"/>
<rect x="246" y="185" width="3" height="2" fill="#1e90ff"/>
<rect x="251" y="180" width="1" height="8" fill="#ff0000"/>
<rect x="250" y="184" width="3" height="2" fill="#ff0000"/>
<rect x="255" y="165" width="1" height="22" fill="#1e90ff"/>
<rect x="254" y="174" width="3" height="13" fill="#1e90ff"/>
<rect x="259" y="159" width="1" height="17" fill="#1e90ff"/>
<rect x="258" y="172" width="3" height="2" fill="#1e90ff"/>
<rect x="263" y="162" width="1" height="27" fill="#ff0000"/>
<rect x="262" y="173" width="3" height="10" fill="#ff0000"/>
<rect x="267" y="177" width="1" height="11" fill="#1e90ff"/>
<rect x="266" y="183" width="3" height="1" fill="#1e90ff"/>
<rect x="271" y="182" width="1" height="12" fill="#ff0000"/>
<rect x="270" y="183" width="3" height="7" fill="#ff0000"/>
<rect x="275" y="180" width="1" height="12" fill="#1e90ff"/>
<rect x="274" y="185" width="3" height="5" fill="#1e90ff"/>
<rect x="279" y="170" width="1" height="16" fill="#1e90ff"/>
<rect x="278" y="171" width="3" height="14" fill="#1e90ff"/>
<rect x="283" y="156" width="1" height="21" fill="#1e90ff"/>
<rect x="282" y="168" width="3" height="5" fill="#1e90ff"/>
<rect x="287" y="165" width="1" height="46" fill="#ff0000"/>
<rect x="286" y="168" width="3" height="34" fill="#ff0000"/>
<rect x="291" y="191" width="1" height="32" fill="#1e90ff"/>
<rect x="290" y="191" width="3" height="12" fill="#1e90ff"/>
<rect x="295" y="186" width="1" height="14" fill="#ff0000"/>
<rect x="294" y="191" width="3" height="1" fill="#ff0000"/>
<rect x="299" y="191" width="1" height="20" fill="#ff0000"/>
<rect x="298" y="192" width="3" height="9" fill="#ff0000"/>
<rect x="303" y="175" width="1" height="26" fill="#1e90ff"/>
<rect x="302" y="178" width="3" height="23" fill="#1e90ff"/>
<rect x="307" y="177" width="1" height="24" fill="#ff0000"/>
<rect x="306" y="177" width="3" height="20" fill="#ff0000"/>
<rect x="311" y="196" width="1" height="5" fill="#ff0000"/>
<rect x="310" y="197" width="3" height="4" fill="#ff0000"/>
<rect x="315" y="199" width="1" height="5" fill="#ff0000"/>
<rect x="314" y="200" width="3" height="2" fill="#ff0000"/>
<rect x="319" y="198" width="1" height="6" fill="#1e90ff"/>
<rect x="318" y="199" width="3" height="2" fill="#1e90ff"/>
<rect x="323" y="198" width="1" height="7" fill="#ff0000"/>
<rect x="322" y="199" width="3" height="5" fill="#ff0000"/>
<rect x="327" y="198" width="1" height="16" fill="#ff0000"/>
<rect x="326" y="202" width="3" height="11" fill="#ff0000"/>
<rect x="331" y="204" width="1" height="20" fill="#1e90ff"/>
<rect x="330" y="210" width="3" height="1" fill="#1e90ff"/>
<rect x="335" y="208" width="1" height="13" fill="#1e90ff"/>
<rect x="334" y="209" width="3" height="3" fill="#1e90ff"/>
<rect x="339" y="207" width="1" height="11" fill="#ff0000"/>
<rect x="338" y="209" width="3" height="3" fill="#ff0000"/>
<rect x="343" y="208" width="1" height="5" fill="#1e90ff"/>
<rect x="342" y="211" width="3" height="2" fill="#1e90ff"/>
<rect x="347" y="210" width="1" height="13" fill="#ff0000"/>
<rect x="346" y="211" width="3" height="6" fill="#ff0000"/>
<rect x="351" y="214" width="1" height="14" fill="#1e90ff"/>
<rect x="350" y="215" width="3" height="1" fill="#1e90ff"/>
<rect x="355" y="200" width="1" height="16" fill="#1e90ff"/>
<rect x="354" y="211" width="3" height="5" fill="#1e90ff"/>
<rect x="359" y="206" width="1" height="10" fill="#ff0000"/>
<rect x="358" y="211" width="3" height="3" fill="#ff0000"/>
<rect x="363" y="204" width="1" height="12" fill="#1e90ff"/>
<rect x="362" y="206" width="3" height="8" fill="#1e90ff"/>
<rect x="367" y="202" width="1" height="8" fill="#1e90ff"/>
<rect x="366" y="204" width="3" height="3" fill="#1e90ff"/>
<rect x="371" y="203" width="1" height="9" fill="#ff0000"/>
<rect x="370" y="205" width="3" height="3" fill="#ff0000"/>
<rect x="375" y="204" width="1" height="48" fill="#ff0000"/>
<rect x="374" y="208" width="3" height="33" fill="#ff0000"/>
<rect x="379" y="226" width="1" height="17" fill="#1e90ff"/>
<rect x="378" y="236" width="3" height="5" fill="#1e90ff"/>
<rect x="383" y="196" width="1" height="42" fill="#1e90ff"/>
<rect x="382" y="206" width="3" height="31" fill="#1e90ff"/>
<rect x="387" y="203" width="1" height="13" fill="#ff0000"/>
<rect x="386" y="205" width="3" height="2" fill="#ff0000"/>
<rect x="391" y="205" width="1" height="11" fill="#ff0000"/>
<rect x="390" y="208" width="3" height="2" fill="#ff0000"/>
<rect x="395" y="201" width="1" height="13" fill="#1e90ff"/>
<rect x="394" y="206" width="3" height="4" fill="#1e90ff"/>
<rect x="399" y="168" width="1" height="59" fill="#ff0000"/>
<rect x="398" y="205" width="3" height="15" fill="#ff0000"/>
<rect x="403" y="219" width="1" height="14" fill="#ff0000"/>
<rect x="402" y="220" width="3" height="13" fill="#ff0000"/>
<rect x="407" y="232" width="1" height="8" fill="#ff0000"/>
<rect x="406" y="233" width="3" height="5" fill="#ff0000"/>
<rect x="411" y="229" width="1" height="12" fill="#1e90ff"/>
<rect x="410" y="233" width="3" height="5" fill="#1e90ff"/>
<rect x="415" y="227" width="1" height="10" fill="#1e90ff"/>
<rect x="414" y="227" width="3" height="7" fill="#1e90ff"/>
<rect x="419" y="222" width="1" height="11" fill="#1e90ff"/>
<rect x="418" y="228" width="3" height="1" fill="#1e90ff"/>
<rect x="423" y="214" width="1" height="15" fill="#1e90ff"/>
<rect x="422" y="219" width="3" height="9" fill="#1e90ff"/>
<rect x="427" y="205" width="1" height="16" fill="#1e90ff"/>
<rect x="426" y="210" width="3" height="10" fill="#1e90ff"/>
<rect x="431" y="202" width="1" height="9" fill="#1e90ff"/>
<rect x="430" y="204" width="3" height="6" fill="#1e90ff"/>
<rect x="435" y="188" width="1" height="19" fill="#1e90ff"/>
<rect x="434" y="192" width="3" height="13" fill="#1e90ff"/>
<rect x="439" y="185" width="1" height="12" fill="#1e90ff"/>
<rect x="438" y="186" width="3" height="6" fill="#1e90ff"/>
<rect x="443" y="182" width="1" height="20" fill="#ff0000"/>
<rect x="442" y="186" width="3" height="11" fill="#ff0000"/>
<rect x="447" y="149" width="1" height="53" fill="#1e90ff"/>
<rect x="446" y="161" width="3" height="36" fill="#1e90ff"/>
<rect x="451" y="152" width="1" height="23" fill="#1e90ff"/>
<rect x="450" y="155" width="3" height="7" fill="#1e90ff"/>
<rect x="455" y="147" width="1" height="22" fill="#1e90ff"/>
<rect x="454" y="151" width="3" height="4" fill="#1e90ff"/>
<rect x="459" y="134" width="1" height="23" fill="#1e90ff"/>
<rect x="458" y="151" width="3" height="1" fill="#1e90ff"/>
<rect x="463" y="147" width="1" height="12" fill="#ff0000"/>
<rect x="462" y="152" width="3" height="3" fill="#ff0000"/>
<rect x="467" y="134" width="1" height="38" fill="#1e90ff"/>
<rect x="466" y="141" width="3" height="13" fill="#1e90ff"/>
<rect x="471" y="139" width="1" height="32" fill="#ff0000"/>
<rect x="470" y="140" width="3" height="28" fill="#ff0000"/>
<rect x="475" y="126" width="1" height="44" fill="#1e90ff"/>
<rect x="474" y="130" width="3" height="36" fill="#1e90ff"/>
<rect x="479" y="122" width="1" height="17" fill="#1e90ff"/>
<rect x="478" y="129" width="3" height="2" fill="#1e90ff"/>
<rect x="483" y="121" width="1" height="12" fill="#1e90ff"/>
<rect x="482" y="126" width="3" height="3" fill="#1e90ff"/>
<rect x="487" y="124" width="1" height="20" fill="#ff0000"/>
<rect x="486" y="125" width="3" height="15" fill="#ff0000"/>
<rect x="491" y="137" width="1" height="13" fill="#1e90ff"/>
<rect x="490" y="137" width="3" height="3" fill="#1e90ff"/>
<rect x="495" y="131" width="1" height="11" fill="#1e90ff"/>
<rect x="494" y="133" width="3" height="5" fill="#1e90ff"/>
<rect x="499" y="133" width="1" height="8" fill="#ff0000"/>
<rect x="498" y="133" width="3" height="6" fill="#ff0000"/>
<rect x="503" y="138" width="1" height="11" fill="#1e90ff"/>
<rect x="502" y="145" width="3" height="2" fill="#1e90ff"/>
<rect x="507" y="141" width="1" height="6" fill="#1e90ff"/>
<rect x="506" y="144" width="3" height="3" fill="#1e90ff"/>
<rect x="511" y="137" width="1" height="12" fill="#1e90ff"/>
<rect x="510" y="143" width="3" height="1" fill="#1e90ff"/>
<rect x="515" y="130" width="1" height="15" fill="#1e90ff"/>
<rect x="514" y="133" width="3" height="10" fill="#1e90ff"/>
<rect x="519" y="125" width="1" height="10" fill="#1e90ff"/>
<rect x="518" y="130" width="3" height="3" fill="#1e90ff"/>
<rect x="523" y="126" width="1" height="10" fill="#ff0000"/>
<rect x="522" y="129" width="3" height="6" fill="#ff0000"/>
<rect x="527" y="130" width="1" height="8" fill="#1e90ff"/>
<rect x="526" y="133" width="3" height="2" fill="#1e90ff"/>
<rect x="531" y="91" width="1" height="42" fill="#1e90ff"/>
<rect x="530" y="96" width="3" height="37" fill="#1e90ff"/>
<rect x="535" y="81" width="1" height="16" fill="#1e90ff"/>
<rect x="534" y="89" width="3" height="7" fill="#1e90ff"/>
<rect x="539" y="83" width="1" height="14" fill="#ff0000"/>
<rect x="538" y="89" width="3" height="5" fill="#ff0000"/>
<rect x="543" y="93" width="1" height="7" fill="#ff0000"/>
<rect x="542" y="94" width="3" height="2" fill="#ff0000"/>
<rect x="547" y="86" width="1" height="10" fill="#1e90ff"/>
<rect x="546" y="91" width="3" height="5" fill="#1e90ff"/>
<rect x="551" y="74" width="1" height="21" fill="#1e90ff"/>
<rect x="550" y="83" width="3" height="10" fill="#1e90ff"/>
<rect x="555" y="70" width="1" height="17" fill="#1e90ff"/>
<rect x="554" y="71" width="3" height="12" fill="#1e90ff"/>
<rect x="559" y="69" width="1" height="33" fill="#ff0000"/>
<rect x="558" y="72" width="3" height="13" fill="#ff0000"/>
<rect x="563" y="80" width="1" height="24" fill="#ff0000"/>
<rect x="562" y="85" width="3" height="14" fill="#ff0000"/>
<rect x="567" y="87" width="1" height="38" fill="#ff0000"/>
<rect x="566" y="97" width="3" height="17" fill="#ff0000"/>
<rect x="571" y="102" width="1" height="17" fill="#1e90ff"/>
<rect x="570" y="105" width="3" height="8" fill="#1e90ff"/>
<rect x="575" y="95" width="1" height="14" fill="#1e90ff"/>
<rect x="574" y="96" width="3" height="11" fill="#1e90ff"/>
<rect x="579" y="91" width="1" height="19" fill="#ff0000"/>
<rect x="578" y="95" width="3" height="9" fill="#ff0000"/>
<rect x="583" y="92" width="1" height="18" fill="#ff0000"/>
<rect x="582" y="104" width="3" height="4" fill="#ff0000"/>
<rect x="587" y="104" width="1" height="12" fill="#1e90ff"/>
<rect x="586" y="106" width="3" height="2" fill="#1e90ff"/>
<rect x="591" y="96" width="1" height="12" fill="#1e90ff"/>
<rect x="590" y="97" width="3" height="10" fill="#1e90ff"/>
<rect x="595" y="98" width="1" height="6" fill="#1e90ff"/>
<rect x="594" y="99" width="3" height="2" fill="#1e90ff"/>
<rect x="599" y="97" width="1" height="14" fill="#ff0000"/>
<rect x="598" y="99" width="3" height="12" fill="#ff0000"/>
<rect x="603" y="98" width="1" height="17" fill="#ff0000"/>
<rect x="602" y="111" width="3" height="3" fill="#ff0000"/>
<rect x="607" y="112" width="1" height="21" fill="#ff0000"/>
<rect x="606" y="113" width="3" height="17" fill="#ff0000"/>
<rect x="611" y="127" width="1" height="33" fill="#ff0000"/>
<rect x="610" y="128" width="3" height="23" fill="#ff0000"/>
<rect x="615" y="144" width="1" height="14" fill="#ff0000"/>
<rect x="614" y="151" width="3" height="2" fill="#ff0000"/>
<rect x="619" y="146" width="1" height="9" fill="#1e90ff"/>
<rect x="618" y="149" width="3" height="5" fill="#1e90ff"/>
<rect x="623" y="143" width="1" height="10" fill="#1e90ff"/>
<rect x="622" y="146" width="3" height="4" fill="#1e90ff"/>
<rect x="627" y="133" width="1" height="15" fill="#1e90ff"/>
<rect x="626" y="138" width="3" height="9" fill="#1e90ff"/>
<rect x="631" y="129" width="1" height="8" fill="#1e90ff"/>
<rect x="630" y="130" width="3" height="6" fill="#1e90ff"/>
<rect x="635" y="130" width="1" height="18" fill="#ff0000"/>
<rect x="634" y="131" width="3" height="12" fill="#ff0000"/>
<rect x="639" y="137" width="1" height="19" fill="#ff0000"/>
<rect x="638" y="141" width="3" height="9" fill="#ff0000"/>
<rect x="643" y="143" width="1" height="13" fill="#ff0000"/>
<rect x="642" y="149" width="3" height="5" fill="#ff0000"/>
<rect x="647" y="138" width="1" height="28" fill="#1e90ff"/>
<rect x="646" y="139" width="3" height="16" fill="#1e90ff"/>
<rect x="651" y="113" width="1" height="30" fill="#1e90ff"/>
<rect x="650" y="121" width="3" height="17" fill="#1e90ff"/>
<rect x="655" y="85" width="1" height="42" fill="#1e90ff"/>
<rect x="654" y="86" width="3" height="35" fill="#1e90ff"/>
<rect x="659" y="80" width="1" height="18" fill="#1e90ff"/>
<rect x="658" y="82" width="3" height="6" fill="#1e90ff"/>
<rect x="663" y="77" width="1" height="16" fill="#ff0000"/>
<rect x="662" y="81" width="3" height="5" fill="#ff0000"/>
<rect x="667" y="84" width="1" height="9" fill="#ff0000"/>
<rect x="666" y="86" width="3" height="5" fill="#ff0000"/>
<rect x="671" y="84" width="1" height="9" fill="#1e90ff"/>
<rect x="670" y="84" width="3" height="7" fill="#1e90ff"/>
<rect x="675" y="83" width="1" height="8" fill="#ff0000"/>
<rect x="674" y="84" width="3" height="5" fill="#ff0000"/>
<rect x="679" y="74" width="1" height="17" fill="#1e90ff"/>
<rect x="678" y="75" width="3" height="15" fill="#1e90ff"/>
<rect x="683" y="70" width="1" height="8" fill="#1e90ff"/>
<rect x="682" y="73" width="3" height="3" fill="#1e90ff"/>
<rect x="687" y="68" width="1" height="9" fill="#1e90ff"/>
<rect x="686" y="71" width="3" height="2" fill="#1e90ff"/>
<rect x="691" y="71" width="1" height="6" fill="#ff0000"/>
<rect x="690" y="71" width="3" height="6" fill="#ff0000"/>
<rect x="695" y="70" width="1" height="13" fill="#1e90ff"/>
<rect x="694" y="70" width="3" height="7" fill="#1e90ff"/>
<rect x="699" y="37" width="1" height="40" fill="#1e90ff"/>
<rect x="698" y="42" width="3" height="30" fill="#1e90ff"/>
<rect x="703" y="41" width="1" height="12" fill="#ff0000"/>
<rect x="702" y="42" width="3" height="6" fill="#ff0000"/>
<rect x="707" y="44" width="1" height="12" fill="#ff0000"/>
<rect x="706" y="47" width="3" height="4" fill="#ff0000"/>
<rect x="711" y="40" width="1" height="14" fill="#1e90ff"/>
<rect x="710" y="42" width="3" height="9" fill="#1e90ff"/>
<rect x="715" y="40" width="1" height="11" fill="#1e90ff"/>
<rect x="714" y="41" width="3" height="1" fill="#1e90ff"/>
<rect x="719" y="39" width="1" height="16" fill="#ff0000"/>
<rect x="718" y="41" width="3" height="7" fill="#ff0000"/>
<rect x="723" y="29" width="1" height="21" fill="#1e90ff"/>
<rect x="722" y="37" width="3" height="11" fill="#1e90ff"/>
<rect x="727" y="36" width="1" height="9" fill="#1e90ff"/>
<rect x="726" y="37" width="3" height="1" fill="#1e90ff"/>
<rect x="731" y="36" width="1" height="47" fill="#ff0000"/>
<rect x="730" y="37" width="3" height="41" fill="#ff0000"/>
<rect x="3" y="28" width="754" height="1" fill="#ff0000"/>
<rect x="3" y="166" width="754" height="1" fill="#ff0000"/>
<rect x="3" y="197" width="754" height="1" fill="#ff0000"/>
<rect x="3" y="252" width="754" height="1" fill="#ff0000"/>
<rect x="3" y="290" width="754" height="1" fill="#ff0000"/>
<rect x="3" y="350" width="754" height="1" fill="#ff0000"/>
<rect x="3" y="432" width="754" height="1" fill="#ff0000"/>
<rect x="3" y="289" width="33" height="2" fill="#ff0000"/>
<rect x="36" y="288" width="32" height="2" fill="#ff0000"/>
<rect x="68" y="287" width="12" height="2" fill="#ff0000"/>
<rect x="80" y="286" width="20" height="2" fill="#ff0000"/>
<rect x="100" y="285" width="8" height="2" fill="#ff0000"/>
<rect x="108" y="284" width="16" height="2" fill="#ff0000"/>
<rect x="124" y="283" width="12" height="2" fill="#ff0000"/>
<rect x="136" y="282" width="12" height="2" fill="#ff0000"/>
<rect x="148" y="281" width="20" height="2" fill="#ff0000"/>
<rect x="168" y="280" width="20" height="2" fill="#ff0000"/>
<rect x="188" y="279" width="12" height="2" fill="#ff0000"/>
<rect x="200" y="278" width="8" height="2" fill="#ff0000"/>
<rect x="208" y="277" width="8" height="2" fill="#ff0000"/>
<rect x="216" y="276" width="12" height="2" fill="#ff0000"/>
<rect x="228" y="275" width="12" height="2" fill="#ff0000"/>
<rect x="240" y="274" width="12" height="2" fill="#ff0000"/>
<rect x="252" y="273" width="15" height="2" fill="#ff0000"/>
<rect x="267" y="274" width="48" height="2" fill="#ff0000"/>
<rect x="315" y="275" width="72" height="2" fill="#ff0000"/>
<rect x="387" y="276" width="45" height="2" fill="#ff0000"/>
<rect x="432" y="275" width="8" height="2" fill="#ff0000"/>
<rect x="440" y="274" width="8" height="2" fill="#ff0000"/>
<rect x="448" y="273" width="8" height="2" fill="#ff0000"/>
<rect x="456" y="272" width="8" height="2" fill="#ff0000"/>
<rect x="464" y="271" width="3" height="2" fill="#ff0000"/>
<rect x="467" y="270" width="6" height="2" fill="#ff0000"/>
<rect x="473" y="269" width="5" height="2" fill="#ff0000"/>
<rect x="478" y="268" width="6" height="2" fill="#ff0000"/>
<rect x="484" y="267" width="7" height="2" fill="#ff0000"/>
<rect x="491" y="266" width="6" height="2" fill="#ff0000"/>
<rect x="497" y="265" width="6" height="2" fill="#ff0000"/>
<rect x="503" y="264" width="5" height="2" fill="#ff0000"/>
<rect x="508" y="263" width="5" height="2" fill="#ff0000"/>
<rect x="513" y="262" width="5" height="2" fill="#ff0000"/>
<rect x="518" y="261" width="5" height="2" fill="#ff0000"/>
<rect x="523" y="260" width="4" height="2" fill="#ff0000"/>
<rect x="527" y="259" width="4" height="2" fill="#ff0000"/>
<rect x="531" y="258" width="4" height="2" fill="#ff0000"/>
<rect x="535" y="257" width="4" height="2" fill="#ff0000"/>
<rect x="539" y="256" width="4" height="2" fill="#ff0000"/>
<rect x="543" y="255" width="4" height="2" fill="#ff0000"/>
<rect x="547" y="254" width="4" height="2" fill="#ff0000"/>
<rect x="551" y="253" width="4" height="2" fill="#ff0000"/>
<rect x="555" y="252" width="4" height="2" fill="#ff0000"/>
<rect x="559" y="251" width="4" height="2" fill="#ff0000"/>
<rect x="563" y="250" width="4" height="2" fill="#ff0000"/>
<rect x="567" y="249" width="4" height="2" fill="#ff0000"/>
<rect x="571" y="248" width="4" height="2" fill="#ff0000"/>
<rect x="575" y="247" width="4" height="2" fill="#ff0000"/>
<rect x="579" y="246" width="3" height="2" fill="#ff0000"/>
<rect x="582" y="245" width="4" height="2" fill="#ff0000"/>
<rect x="586" y="244" width="4" height="2" fill="#ff0000"/>
<rect x="590" y="243" width="4" height="2" fill="#ff0000"/>
<rect x="594" y="242" width="3" height="2" fill="#ff0000"/>
<rect x="597" y="241" width="4" height="2" fill="#ff0000"/>
<rect x="601" y="240" width="4" height="2" fill="#ff0000"/>
<rect x="605" y="239" width="4" height="2" fill="#ff0000"/>
<rect x="609" y="238" width="3" height="2" fill="#ff0000"/>
<rect x="612" y="237" width="4" height="2" fill="#ff0000"/>
<rect x="616" y="236" width="4" height="2" fill="#ff0000"/>
<rect x="620" y="235" width="4" height="2" fill="#ff0000"/>
<rect x="624" y="234" width="3" height="2" fill="#ff0000"/>
<rect x="627" y="233" width="4" height="2" fill="#ff0000"/>
<rect x="631" y="232" width="4" height="2" fill="#ff0000"/>
<rect x="635" y="231" width="4" height="2" fill="#ff0000"/>
<rect x="639" y="230" width="3" height="2" fill="#ff0000"/>
<rect x="642" y="229" width="4" height="2" fill="#ff0000"/>
<rect x="646" y="228" width="4" height="2" fill="#ff0000"/>
<rect x="650" y="227" width="3" height="2" fill="#ff0000"/>
<rect x="653" y="226" width="2" height="2" fill="#ff0000"/>
<rect x="655" y="225" width="3" height="2" fill="#ff0000"/>
<rect x="658" y="224" width="2" height="2" fill="#ff0000"/>
<rect x="660" y="223" width="2" height="2" fill="#ff0000"/>
<rect x="662" y="222" width="3" height="2" fill="#ff0000"/>
<rect x="665" y="221" width="3" height="2" fill="#ff0000"/>
<rect x="668" y="220" width="3" height="2" fill="#ff0000"/>
<rect x="671" y="219" width="3" height="2" fill="#ff0000"/>
<rect x="674" y="218" width="3" height="2" fill="#ff0000"/>
<rect x="677" y="217" width="3" height="2" fill="#ff0000"/>
<rect x="680" y="216" width="3" height="2" fill="#ff0000"/>
<rect x="683" y="215" width="3" height="2" fill="#ff0000"/>
<rect x="686" y="214" width="3" height="2" fill="#ff0000"/>
<rect x="689" y="213" width="2" height="2" fill="#ff0000"/>
<rect x="691" y="212" width="3" height="2" fill="#ff0000"/>
<rect x="694" y="211" width="3" height="2" fill="#ff0000"/>
<rect x="697" y="210" width="2" height="2" fill="#ff0000"/>
<rect x="699" y="209" width="2" height="2" fill="#ff0000"/>
<rect x="701" y="208" width="2" height="2" fill="#ff0000"/>
<rect x="703" y="207" width="2" height="2" fill="#ff0000"/>
<rect x="705" y="206" width="2" height="2" fill="#ff0000"/>
<rect x="707" y="205" width="3" height="2" fill="#ff0000"/>
<rect x="710" y="204" width="2" height="2" fill="#ff0000"/>
<rect x="712" y="203" width="3" height="2" fill="#ff0000"/>
<rect x="715" y="202" width="3" height="2" fill="#ff0000"/>
<rect x="718" y="201" width="3" height="2" fill="#ff0000"/>
<rect x="721" y="200" width="2" height="2" fill="#ff0000"/>
<rect x="723" y="199" width="2" height="2" fill="#ff0000"/>
<rect x="725" y="198" width="3" height="2" fill="#ff0000"/>
<rect x="728" y="197" width="4" height="2" fill="#ff0000"/>
<rect x="2" y="544" width="3" height="33" fill="#696969"/>
<rect x="6" y="533" width="3" height="11" fill="#696969"/>
<rect x="10" y="495" width="3" height="49" fill="#696969"/>
<rect x="14" y="476" width="3" height="68" fill="#696969"/>
<rect x="18" y="461" width="3" height="83" fill="#696969"/>
<rect x="22" y="459" width="3" height="85" fill="#696969"/>
<rect x="26" y="457" width="3" height="87" fill="#696969"/>
<rect x="30" y="457" width="3" height="87" fill="#696969"/>
<rect x="34" y="458" width="3" height="86" fill="#696969"/>
<rect x="38" y="459" width="3" height="85" fill="#696969"/>
<rect x="42" y="462" width="3" height="82" fill="#696969"/>
<rect x="46" y="467" width="3" height="77" fill="#696969"/>
<rect x="50" y="471" width="3" height="73" fill="#696969"/>
<rect x="54" y="476" width="3" height="68" fill="#696969"/>
<rect x="58" y="478" width="3" height="66" fill="#696969"/>
<rect x="62" y="481" width="3" height="63" fill="#696969"/>
<rect x="66" y="487" width="3" height="57" fill="#696969"/>
<rect x="70" y="494" width="3" height="50" fill="#696969"/>
<rect x="74" y="499" width="3" height="45" fill="#696969"/>
<rect x="78" y="501" width="3" height="43" fill="#696969"/>
<rect x="82" y="503" width="3" height="41" fill="#696969"/>
<rect x="86" y="510" width="3" height="34" fill="#696969"/>
<rect x="90" y="515" width="3" height="29" fill="#696969"/>
<rect x="94" y="520" width="3" height="24" fill="#696969"/>
<rect x="98" y="519" width="3" height="25" fill="#696969"/>
<rect x="102" y="510" width="3" height="34" fill="#696969"/>
<rect x="106" y="512" width="3" height="32" fill="#696969"/>
<rect x="110" y="516" width="3" height="28" fill="#696969"/>
<rect x="114" y="520" width="3" height="24" fill="#696969"/>
<rect x="118" y="518" width="3" height="26" fill="#696969"/>
<rect x="122" y="520" width="3" height="24" fill="#696969"/>
<rect x="126" y="522" width="3" height="22" fill="#696969"/>
<rect x="130" y="523" width="3" height="21" fill="#696969"/>
<rect x="134" y="524" width="3" height="20" fill="#696969"/>
<rect x="138" y="525" width="3" height="19" fill="#696969"/>
<rect x="142" y="525" width="3" height="19" fill="#696969"/>
<rect x="146" y="524" width="3" height="20" fill="#696969"/>
<rect x="150" y="526" width="3" height="18" fill="#696969"/>
<rect x="154" y="527" width="3" height="17" fill="#696969"/>
<rect x="158" y="528" width="3" height="16" fill="#696969"/>
<rect x="162" y="528" width="3" height="16" fill="#696969"/>
<rect x="166" y="526" width="3" height="18" fill="#696969"/>
<rect x="170" y="524" width="3" height="20" fill="#696969"/>
<rect x="174" y="527" width="3" height="17" fill="#696969"/>
<rect x="178" y="527" width="3" height="17" fill="#696969"/>
<rect x="182" y="527" width="3" height="17" fill="#696969"/>
<rect x="186" y="528" width="3" height="16" fill="#696969"/>
<rect x="190" y="518" width="3" height="26" fill="#696969"/>
<rect x="194" y="506" width="3" height="38" fill="#696969"/>
<rect x="198" y="495" width="3" height="49" fill="#696969"/>
<rect x="202" y="493" width="3" height="51" fill="#696969"/>
<rect x="206" y="495" width="3" height="49" fill="#696969"/>
<rect x="210" y="498" width="3" height="46" fill="#696969"/>
<rect x="214" y="498" width="3" height="46" fill="#696969"/>
<rect x="218" y="500" width="3" height="44" fill="#696969"/>
<rect x="222" y="502" width="3" height="42" fill="#696969"/>
<rect x="226" y="505" width="3" height="39" fill="#696969"/>
<rect x="230" y="508" width="3" height="36" fill="#696969"/>
<rect x="234" y="508" width="3" height="36" fill="#696969"/>
<rect x="238" y="508" width="3" height="36" fill="#696969"/>
<rect x="242" y="508" width="3" height="36" fill="#696969"/>
<rect x="246" y="509" width="3" height="35" fill="#696969"/>
<rect x="250" y="510" width="3" height="34" fill="#696969"/>
<rect x="254" y="508" width="3" height="36" fill="#696969"/>
<rect x="258" y="507" width="3" height="37" fill="#696969"/>
<rect x="262" y="510" width="3" height="34" fill="#696969"/>
<rect x="266" y="513" width="3" height="31" fill="#696969"/>
<rect x="270" y="517" width="3" height="27" fill="#696969"/>
<rect x="274" y="519" width="3" height="25" fill="#696969"/>
<rect x="278" y="517" width="3" height="27" fill="#696969"/>
<rect x="282" y="515" width="3" height="29" fill="#696969"/>
<rect x="286" y="524" width="3" height="20" fill="#696969"/>
<rect x="290" y="527" width="3" height="17" fill="#696969"/>
<rect x="294" y="530" width="3" height="14" fill="#696969"/>
<rect x="298" y="534" width="3" height="10" fill="#696969"/>
<rect x="302" y="530" width="3" height="14" fill="#696969"/>
<rect x="306" y="534" width="3" height="10" fill="#696969"/>
<rect x="310" y="537" width="3" height="7" fill="#696969"/>
<rect x="314" y="540" width="3" height="4" fill="#696969"/>
<rect x="318" y="541" width="3" height="3" fill="#696969"/>
<rect x="322" y="543" width="3" height="1" fill="#696969"/>
<rect x="326" y="544" width="3" height="4" fill="#696969"/>
<rect x="330" y="544" width="3" height="6" fill="#696969"/>
<rect x="334" y="544" width="3" height="7" fill="#696969"/>
<rect x="338" y="544" width="3" height="8" fill="#696969"/>
<rect x="342" y="544" width="3" height="8" fill="#696969"/>
<rect x="346" y="544" width="3" height="10" fill="#696969"/>
<rect x="350" y="544" width="3" height="9" fill="#696969"/>
<rect x="354" y="544" width="3" height="9" fill="#696969"/>
<rect x="358" y="544" width="3" height="9" fill="#696969"/>
<rect x="362" y="544" width="3" height="7" fill="#696969"/>
<rect x="366" y="544" width="3" height="4" fill="#696969"/>
<rect x="370" y="544" width="3" height="4" fill="#696969"/>
<rect x="374" y="544" width="3" height="13" fill="#696969"/>
<rect x="378" y="544" width="3" height="18" fill="#696969"/>
<rect x="382" y="544" width="3" height="11" fill="#696969"/>
<rect x="386" y="544" width="3" height="7" fill="#696969"/>
<rect x="390" y="544" width="3" height="5" fill="#696969"/>
<rect x="394" y="544" width="3" height="3" fill="#696969"/>
<rect x="398" y="544" width="3" height="6" fill="#696969"/>
<rect x="402" y="544" width="3" height="11" fill="#696969"/>
<rect x="406" y="544" width="3" height="16" fill="#696969"/>
<rect x="410" y="544" width="3" height="17" fill="#696969"/>
<rect x="414" y="544" width="3" height="16" fill="#696969"/>
<rect x="418" y="544" width="3" height="14" fill="#696969"/>
<rect x="422" y="544" width="3" height="12" fill="#696969"/>
<rect x="426" y="544" width="3" height="6" fill="#696969"/>
<rect x="430" y="543" width="3" height="1" fill="#696969"/>
<rect x="434" y="537" width="3" height="7" fill="#696969"/>
<rect x="438" y="531" width="3" height="13" fill="#696969"/>
<rect x="442" y="531" width="3" height="13" fill="#696969"/>
<rect x="446" y="521" width="3" height="23" fill="#696969"/>
<rect x="450" y="512" width="3" height="32" fill="#696969"/>
<rect x="454" y="507" width="3" height="37" fill="#696969"/>
<rect x="458" y="504" width="3" height="40" fill="#696969"/>
<rect x="462" y="504" width="3" height="40" fill="#696969"/>
<rect x="466" y="501" width="3" height="43" fill="#696969"/>
<rect x="470" y="507" width="3" height="37" fill="#696969"/>
<rect x="474" y="501" width="3" height="43" fill="#696969"/>
<rect x="478" y="497" width="3" height="47" fill="#696969"/>
<rect x="482" y="495" width="3" height="49" fill="#696969"/>
<rect x="486" y="499" width="3" height="45" fill="#696969"/>
<rect x="490" y="501" width="3" height="43" fill="#696969"/>
<rect x="494" y="502" width="3" height="42" fill="#696969"/>
<rect x="498" y="505" width="3" height="39" fill="#696969"/>
<rect x="502" y="510" width="3" height="34" fill="#696969"/>
<rect x="506" y="513" width="3" height="31" fill="#696969"/>
<rect x="510" y="516" width="3" height="28" fill="#696969"/>
<rect x="514" y="515" width="3" height="29" fill="#696969"/>
<rect x="518" y="514" width="3" height="30" fill="#696969"/>
<rect x="522" y="515" width="3" height="29" fill="#696969"/>
<rect x="526" y="516" width="3" height="28" fill="#696969"/>
<rect x="530" y="506" width="3" height="38" fill="#696969"/>
<rect x="534" y="498" width="3" height="46" fill="#696969"/>
<rect x="538" y="495" width="3" height="49" fill="#696969"/>
<rect x="542" y="495" width="3" height="49" fill="#696969"/>
<rect x="546" y="495" width="3" height="49" fill="#696969"/>
<rect x="550" y="493" width="3" height="51" fill="#696969"/>
<rect x="554" y="489" width="3" height="55" fill="#696969"/>
<rect x="558" y="492" width="3" height="52" fill="#696969"/>
<rect x="562" y="499" width="3" height="45" fill="#696969"/>
<rect x="566" y="508" width="3" height="36" fill="#696969"/>
<rect x="570" y="513" width="3" height="31" fill="#696969"/>
<rect x="574" y="513" width="3" height="31" fill="#696969"/>
<rect x="578" y="517" width="3" height="27" fill="#696969"/>
<rect x="582" y="520" width="3" height="24" fill="#696969"/>
<rect x="586" y="522" width="3" height="22" fill="#696969"/>
<rect x="590" y="522" width="3" height="22" fill="#696969"/>
<rect x="594" y="522" width="3" height="22" fill="#696969"/>
<rect x="598" y="526" width="3" height="18" fill="#696969"/>
<rect x="602" y="530" width="3" height="14" fill="#696969"/>
<rect x="606" y="538" width="3" height="6" fill="#696969"/>
<rect x="610" y="544" width="3" height="6" fill="#696969"/>
<rect x="614" y="544" width="3" height="14" fill="#696969"/>
<rect x="618" y="544" width="3" height="17" fill="#696969"/>
<rect x="622" y="544" width="3" height="18" fill="#696969"/>
<rect x="626" y="544" width="3" height="14" fill="#696969"/>
<rect x="630" y="544" width="3" height="12" fill="#696969"/>
<rect x="634" y="544" width="3" height="13" fill="#696969"/>
<rect x="638" y="544" width="3" height="13" fill="#696969"/>
<rect x="642" y="544" width="3" height="18" fill="#696969"/>
<rect x="646" y="544" width="3" height="14" fill="#696969"/>
<rect x="650" y="544" width="3" height="7" fill="#696969"/>
<rect x="654" y="535" width="3" height="9" fill="#696969"/>
<rect x="658" y="524" width="3" height="20" fill="#696969"/>
<rect x="662" y="519" width="3" height="25" fill="#696969"/>
<rect x="666" y="517" width="3" height="27" fill="#696969"/>
<rect x="670" y="515" width="3" height="29" fill="#696969"/>
<rect x="674" y="515" width="3" height="29" fill="#696969"/>
<rect x="678" y="512" width="3" height="32" fill="#696969"/>
<rect x="682" y="510" width="3" height="34" fill="#696969"/>
<rect x="686" y="509" width="3" height="35" fill="#696969"/>
<rect x="690" y="510" width="3" height="34" fill="#696969"/>
<rect x="694" y="510" width="3" height="34" fill="#696969"/>
<rect x="698" y="502" width="3" height="42" fill="#696969"/>
<rect x="702" y="500" width="3" height="44" fill="#696969"/>
<rect x="706" y="500" width="3" height="44" fill="#696969"/>
<rect x="710" y="498" width="3" height="46" fill="#696969"/>
<rect x="714" y="498" width="3" height="46" fill="#696969"/>
<rect x="718" y="500" width="3" height="44" fill="#696969"/>
<rect x="722" y="499" width="3" height="45" fill="#696969"/>
<rect x="726" y="500" width="3" height="44" fill="#696969"/>
<rect x="730" y="513" width="3" height="31" fill="#696969"/>
<rect x="35" y="458" width="1" height="1" fill="#ff0000"/>
<rect x="39" y="458" width="3" height="1" fill="#ff0000"/>
<rect x="34" y="459" width="1" height="1" fill="#ff0000"/>
<rect x="45" y="459" width="1" height="1" fill="#ff0000"/>
<rect x="33" y="460" width="1" height="1" fill="#ff0000"/>
<rect x="46" y="460" width="2" height="1" fill="#ff0000"/>
<rect x="51" y="463" width="1" height="1" fill="#ff0000"/>
<rect x="30" y="464" width="1" height="1" fill="#ff0000"/>
<rect x="52" y="464" width="1" height="1" fill="#ff0000"/>
<rect x="29" y="465" width="1" height="1" fill="#ff0000"/>
<rect x="53" y="465" width="1" height="1" fill="#ff0000"/>
<rect x="29" y="466" width="1" height="1" fill="#ff0000"/>
<rect x="57" y="469" width="1" height="1" fill="#ff0000"/>
<rect x="27" y="470" width="1" height="1" fill="#ff0000"/>
<rect x="58" y="470" width="1" height="1" fill="#ff0000"/>
<rect x="27" y="471" width="1" height="1" fill="#ff0000"/>
<rect x="59" y="471" width="1" height="1" fill="#ff0000"/>
<rect x="26" y="472" width="1" height="1" fill="#ff0000"/>
<rect x="63" y="474" width="1" height="1" fill="#ff0000"/>
<rect x="64" y="475" width="1" height="1" fill="#ff0000"/>
<rect x="25" y="476" width="1" height="1" fill="#ff0000"/>
<rect x="65" y="476" width="1" height="1" fill="#ff0000"/>
<rect x="25" y="477" width="1" height="1" fill="#ff0000"/>
<rect x="25" y="478" width="1" height="1" fill="#ff0000"/>
<rect x="69" y="480" width="1" height="1" fill="#ff0000"/>
<rect x="69" y="481" width="1" height="1" fill="#ff0000"/>
<rect x="24" y="482" width="1" height="1" fill="#ff0000"/>
<rect x="70" y="482" width="1" height="1" fill="#ff0000"/>
<rect x="24" y="483" width="1" height="1" fill="#ff0000"/>
<rect x="23" y="484" width="1" height="1" fill="#ff0000"/>
<rect x="73" y="486" width="1" height="1" fill="#ff0000"/>
<rect x="74" y="487" width="1" height="1" fill="#ff0000"/>
<rect x="22" y="488" width="1" height="1" fill="#ff0000"/>
<rect x="75" y="488" width="1" height="1" fill="#ff0000"/>
<rect x="22" y="489" width="1" height="1" fill="#ff0000"/>
<rect x="22" y="490" width="1" height="1" fill="#ff0000"/>
<rect x="79" y="492" width="1" height="1" fill="#ff0000"/>
<rect x="80" y="493" width="1" height="1" fill="#ff0000"/>
<rect x="556" y="493" width="3" height="1" fill="#ff0000"/>
<rect x="21" y="494" width="1" height="1" fill="#ff0000"/>
<rect x="81" y="494" width="1" height="1" fill="#ff0000"/>
<rect x="562" y="494" width="3" height="1" fill="#ff0000"/>
<rect x="21" y="495" width="1" height="1" fill="#ff0000"/>
<rect x="551" y="495" width="2" height="1" fill="#ff0000"/>
<rect x="21" y="496" width="1" height="1" fill="#ff0000"/>
<rect x="214" y="496" width="2" height="1" fill="#ff0000"/>
<rect x="550" y="496" width="1" height="1" fill="#ff0000"/>
<rect x="213" y="497" width="1" height="1" fill="#ff0000"/>
<rect x="219" y="497" width="2" height="1" fill="#ff0000"/>
<rect x="568" y="497" width="1" height="1" fill="#ff0000"/>
<rect x="84" y="498" width="1" height="1" fill="#ff0000"/>
<rect x="221" y="498" width="1" height="1" fill="#ff0000"/>
<rect x="569" y="498" width="1" height="1" fill="#ff0000"/>
<rect x="85" y="499" width="1" height="1" fill="#ff0000"/>
<rect x="209" y="499" width="1" height="1" fill="#ff0000"/>
<rect x="490" y="499" width="3" height="1" fill="#ff0000"/>
<rect x="496" y="499" width="2" height="1" fill="#ff0000"/>
<rect x="546" y="499" width="1" height="1" fill="#ff0000"/>
<rect x="570" y="499" width="1" height="1" fill="#ff0000"/>
<rect x="721" y="499" width="3" height="1" fill="#ff0000"/>
<rect x="727" y="499" width="1" height="1" fill="#ff0000"/>
<rect x="20" y="500" width="1" height="1" fill="#ff0000"/>
<rect x="86" y="500" width="1" height="1" fill="#ff0000"/>
<rect x="208" y="500" width="1" height="1" fill="#ff0000"/>
<rect x="225" y="500" width="1" height="1" fill="#ff0000"/>
<rect x="484" y="500" width="3" height="1" fill="#ff0000"/>
<rect x="498" y="500" width="1" height="1" fill="#ff0000"/>
<rect x="545" y="500" width="1" height="1" fill="#ff0000"/>
<rect x="715" y="500" width="3" height="1" fill="#ff0000"/>
<rect x="728" y="500" width="1" height="1" fill="#ff0000"/>
<rect x="20" y="501" width="1" height="1" fill="#ff0000"/>
<rect x="207" y="501" width="1" height="1" fill="#ff0000"/>
<rect x="226" y="501" width="2" height="1" fill="#ff0000"/>
<rect x="544" y="501" width="1" height="1" fill="#ff0000"/>
<rect x="729" y="501" width="1" height="1" fill="#ff0000"/>
<rect x="20" y="502" width="1" height="1" fill="#ff0000"/>
<rect x="478" y="502" width="3" height="1" fill="#ff0000"/>
<rect x="502" y="502" width="1" height="1" fill="#ff0000"/>
<rect x="710" y="502" width="2" height="1" fill="#ff0000"/>
<rect x="231" y="503" width="2" height="1" fill="#ff0000"/>
<rect x="474" y="503" width="1" height="1" fill="#ff0000"/>
<rect x="503" y="503" width="1" height="1" fill="#ff0000"/>
<rect x="573" y="503" width="1" height="1" fill="#ff0000"/>
<rect x="709" y="503" width="1" height="1" fill="#ff0000"/>
<rect x="89" y="504" width="1" height="1" fill="#ff0000"/>
<rect x="233" y="504" width="1" height="1" fill="#ff0000"/>
<rect x="473" y="504" width="1" height="1" fill="#ff0000"/>
<rect x="504" y="504" width="1" height="1" fill="#ff0000"/>
<rect x="574" y="504" width="1" height="1" fill="#ff0000"/>
<rect x="90" y="505" width="1" height="1" fill="#ff0000"/>
<rect x="205" y="505" width="1" height="1" fill="#ff0000"/>
<rect x="237" y="505" width="1" height="1" fill="#ff0000"/>
<rect x="472" y="505" width="1" height="1" fill="#ff0000"/>
<rect x="540" y="505" width="1" height="1" fill="#ff0000"/>
<rect x="575" y="505" width="1" height="1" fill="#ff0000"/>
<rect x="705" y="505" width="1" height="1" fill="#ff0000"/>
<rect x="19" y="506" width="1" height="1" fill="#ff0000"/>
<rect x="91" y="506" width="1" height="1" fill="#ff0000"/>
<rect x="204" y="506" width="1" height="1" fill="#ff0000"/>
<rect x="238" y="506" width="2" height="1" fill="#ff0000"/>
<rect x="467" y="506" width="2" height="1" fill="#ff0000"/>
<rect x="539" y="506" width="1" height="1" fill="#ff0000"/>
<rect x="703" y="506" width="2" height="1" fill="#ff0000"/>
<rect x="19" y="507" width="1" height="1" fill="#ff0000"/>
<rect x="204" y="507" width="1" height="1" fill="#ff0000"/>
<rect x="243" y="507" width="3" height="1" fill="#ff0000"/>
<rect x="466" y="507" width="1" height="1" fill="#ff0000"/>
<rect x="508" y="507" width="1" height="1" fill="#ff0000"/>
<rect x="538" y="507" width="1" height="1" fill="#ff0000"/>
<rect x="19" y="508" width="1" height="1" fill="#ff0000"/>
<rect x="249" y="508" width="1" height="1" fill="#ff0000"/>
<rect x="261" y="508" width="1" height="1" fill="#ff0000"/>
<rect x="509" y="508" width="2" height="1" fill="#ff0000"/>
<rect x="698" y="508" width="2" height="1" fill="#ff0000"/>
<rect x="250" y="509" width="2" height="1" fill="#ff0000"/>
<rect x="255" y="509" width="3" height="1" fill="#ff0000"/>
<rect x="262" y="509" width="2" height="1" fill="#ff0000"/>
<rect x="578" y="509" width="1" height="1" fill="#ff0000"/>
<rect x="697" y="509" width="1" height="1" fill="#ff0000"/>
<rect x="95" y="510" width="1" height="1" fill="#ff0000"/>
<rect x="267" y="510" width="3" height="1" fill="#ff0000"/>
<rect x="579" y="510" width="1" height="1" fill="#ff0000"/>
<rect x="96" y="511" width="1" height="1" fill="#ff0000"/>
<rect x="201" y="511" width="1" height="1" fill="#ff0000"/>
<rect x="462" y="511" width="1" height="1" fill="#ff0000"/>
<rect x="514" y="511" width="1" height="1" fill="#ff0000"/>
<rect x="533" y="511" width="2" height="1" fill="#ff0000"/>
<rect x="580" y="511" width="1" height="1" fill="#ff0000"/>
<rect x="691" y="511" width="3" height="1" fill="#ff0000"/>
<rect x="18" y="512" width="1" height="1" fill="#ff0000"/>
<rect x="97" y="512" width="1" height="1" fill="#ff0000"/>
<rect x="201" y="512" width="1" height="1" fill="#ff0000"/>
<rect x="273" y="512" width="1" height="1" fill="#ff0000"/>
<rect x="461" y="512" width="1" height="1" fill="#ff0000"/>
<rect x="515" y="512" width="2" height="1" fill="#ff0000"/>
<rect x="532" y="512" width="1" height="1" fill="#ff0000"/>
<rect x="686" y="512" width="2" height="1" fill="#ff0000"/>
<rect x="18" y="513" width="1" height="1" fill="#ff0000"/>
<rect x="200" y="513" width="1" height="1" fill="#ff0000"/>
<rect x="274" y="513" width="2" height="1" fill="#ff0000"/>
<rect x="461" y="513" width="1" height="1" fill="#ff0000"/>
<rect x="685" y="513" width="1" height="1" fill="#ff0000"/>
<rect x="18" y="514" width="1" height="1" fill="#ff0000"/>
<rect x="101" y="514" width="1" height="1" fill="#ff0000"/>
<rect x="520" y="514" width="3" height="1" fill="#ff0000"/>
<rect x="102" y="515" width="2" height="1" fill="#ff0000"/>
<rect x="107" y="515" width="3" height="1" fill="#ff0000"/>
<rect x="113" y="515" width="3" height="1" fill="#ff0000"/>
<rect x="119" y="515" width="2" height="1" fill="#ff0000"/>
<rect x="279" y="515" width="3" height="1" fill="#ff0000"/>
<rect x="526" y="515" width="3" height="1" fill="#ff0000"/>
<rect x="584" y="515" width="1" height="1" fill="#ff0000"/>
<rect x="681" y="515" width="1" height="1" fill="#ff0000"/>
<rect x="121" y="516" width="1" height="1" fill="#ff0000"/>
<rect x="585" y="516" width="2" height="1" fill="#ff0000"/>
<rect x="679" y="516" width="2" height="1" fill="#ff0000"/>
<rect x="198" y="517" width="1" height="1" fill="#ff0000"/>
<rect x="285" y="517" width="1" height="1" fill="#ff0000"/>
<rect x="457" y="517" width="1" height="1" fill="#ff0000"/>
<rect x="18" y="518" width="1" height="1" fill="#ff0000"/>
<rect x="125" y="518" width="1" height="1" fill="#ff0000"/>
<rect x="197" y="518" width="1" height="1" fill="#ff0000"/>
<rect x="286" y="518" width="2" height="1" fill="#ff0000"/>
<rect x="457" y="518" width="1" height="1" fill="#ff0000"/>
<rect x="675" y="518" width="1" height="1" fill="#ff0000"/>
<rect x="17" y="519" width="1" height="1" fill="#ff0000"/>
<rect x="126" y="519" width="2" height="1" fill="#ff0000"/>
<rect x="196" y="519" width="1" height="1" fill="#ff0000"/>
<rect x="456" y="519" width="1" height="1" fill="#ff0000"/>
<rect x="590" y="519" width="3" height="1" fill="#ff0000"/>
<rect x="674" y="519" width="1" height="1" fill="#ff0000"/>
<rect x="17" y="520" width="1" height="1" fill="#ff0000"/>
<rect x="291" y="520" width="1" height="1" fill="#ff0000"/>
<rect x="673" y="520" width="1" height="1" fill="#ff0000"/>
<rect x="131" y="521" width="3" height="1" fill="#ff0000"/>
<rect x="292" y="521" width="1" height="1" fill="#ff0000"/>
<rect x="596" y="521" width="2" height="1" fill="#ff0000"/>
<rect x="137" y="522" width="1" height="1" fill="#ff0000"/>
<rect x="293" y="522" width="1" height="1" fill="#ff0000"/>
<rect x="598" y="522" width="1" height="1" fill="#ff0000"/>
<rect x="138" y="523" width="2" height="1" fill="#ff0000"/>
<rect x="193" y="523" width="1" height="1" fill="#ff0000"/>
<rect x="453" y="523" width="1" height="1" fill="#ff0000"/>
<rect x="17" y="524" width="1" height="1" fill="#ff0000"/>
<rect x="143" y="524" width="3" height="1" fill="#ff0000"/>
<rect x="149" y="524" width="1" height="1" fill="#ff0000"/>
<rect x="192" y="524" width="1" height="1" fill="#ff0000"/>
<rect x="452" y="524" width="1" height="1" fill="#ff0000"/>
<rect x="602" y="524" width="2" height="1" fill="#ff0000"/>
<rect x="670" y="524" width="1" height="1" fill="#ff0000"/>
<rect x="17" y="525" width="1" height="1" fill="#ff0000"/>
<rect x="150" y="525" width="2" height="1" fill="#ff0000"/>
<rect x="155" y="525" width="3" height="1" fill="#ff0000"/>
<rect x="191" y="525" width="1" height="1" fill="#ff0000"/>
<rect x="297" y="525" width="2" height="1" fill="#ff0000"/>
<rect x="452" y="525" width="1" height="1" fill="#ff0000"/>
<rect x="604" y="525" width="1" height="1" fill="#ff0000"/>
<rect x="669" y="525" width="1" height="1" fill="#ff0000"/>
<rect x="17" y="526" width="1" height="1" fill="#ff0000"/>
<rect x="161" y="526" width="1" height="1" fill="#ff0000"/>
<rect x="179" y="526" width="3" height="1" fill="#ff0000"/>
<rect x="185" y="526" width="1" height="1" fill="#ff0000"/>
<rect x="299" y="526" width="1" height="1" fill="#ff0000"/>
<rect x="669" y="526" width="1" height="1" fill="#ff0000"/>
<rect x="162" y="527" width="2" height="1" fill="#ff0000"/>
<rect x="167" y="527" width="3" height="1" fill="#ff0000"/>
<rect x="173" y="527" width="3" height="1" fill="#ff0000"/>
<rect x="186" y="527" width="2" height="1" fill="#ff0000"/>
<rect x="303" y="529" width="2" height="1" fill="#ff0000"/>
<rect x="449" y="529" width="1" height="1" fill="#ff0000"/>
<rect x="608" y="529" width="1" height="1" fill="#ff0000"/>
<rect x="16" y="530" width="1" height="1" fill="#ff0000"/>
<rect x="305" y="530" width="1" height="1" fill="#ff0000"/>
<rect x="448" y="530" width="1" height="1" fill="#ff0000"/>
<rect x="609" y="530" width="1" height="1" fill="#ff0000"/>
<rect x="667" y="530" width="1" height="1" fill="#ff0000"/>
<rect x="16" y="531" width="1" height="1" fill="#ff0000"/>
<rect x="448" y="531" width="1" height="1" fill="#ff0000"/>
<rect x="609" y="531" width="1" height="1" fill="#ff0000"/>
<rect x="666" y="531" width="1" height="1" fill="#ff0000"/>
<rect x="16" y="532" width="1" height="1" fill="#ff0000"/>
<rect x="309" y="532" width="1" height="1" fill="#ff0000"/>
<rect x="666" y="532" width="1" height="1" fill="#ff0000"/>
<rect x="310" y="533" width="2" height="1" fill="#ff0000"/>
<rect x="315" y="535" width="3" height="1" fill="#ff0000"/>
<rect x="445" y="535" width="1" height="1" fill="#ff0000"/>
<rect x="612" y="535" width="1" height="1" fill="#ff0000"/>
<rect x="15" y="536" width="1" height="1" fill="#ff0000"/>
<rect x="444" y="536" width="1" height="1" fill="#ff0000"/>
<rect x="613" y="536" width="1" height="1" fill="#ff0000"/>
<rect x="664" y="536" width="1" height="1" fill="#ff0000"/>
<rect x="15" y="537" width="1" height="1" fill="#ff0000"/>
<rect x="444" y="537" width="1" height="1" fill="#ff0000"/>
<rect x="613" y="537" width="1" height="1" fill="#ff0000"/>
<rect x="663" y="537" width="1" height="1" fill="#ff0000"/>
<rect x="15" y="538" width="1" height="1" fill="#ff0000"/>
<rect x="321" y="538" width="2" height="1" fill="#ff0000"/>
<rect x="663" y="538" width="1" height="1" fill="#ff0000"/>
<rect x="323" y="539" width="1" height="1" fill="#ff0000"/>
<rect x="441" y="541" width="1" height="1" fill="#ff0000"/>
<rect x="616" y="541" width="1" height="1" fill="#ff0000"/>
<rect x="14" y="542" width="1" height="1" fill="#ff0000"/>
<rect x="327" y="542" width="2" height="1" fill="#ff0000"/>
<rect x="440" y="542" width="1" height="1" fill="#ff0000"/>
<rect x="616" y="542" width="1" height="1" fill="#ff0000"/>
<rect x="661" y="542" width="1" height="1" fill="#ff0000"/>
<rect x="13" y="543" width="1" height="1" fill="#ff0000"/>
<rect x="329" y="543" width="1" height="1" fill="#ff0000"/>
<rect x="439" y="543" width="1" height="1" fill="#ff0000"/>
<rect x="617" y="543" width="1" height="1" fill="#ff0000"/>
<rect x="661" y="543" width="1" height="1" fill="#ff0000"/>
<rect x="13" y="544" width="1" height="1" fill="#ff0000"/>
<rect x="660" y="544" width="1" height="1" fill="#ff0000"/>
<rect x="333" y="545" width="1" height="1" fill="#ff0000"/>
<rect x="334" y="546" width="2" height="1" fill="#ff0000"/>
<rect x="436" y="547" width="1" height="1" fill="#ff0000"/>
<rect x="619" y="547" width="1" height="1" fill="#ff0000"/>
<rect x="12" y="548" width="1" height="1" fill="#ff0000"/>
<rect x="436" y="548" width="1" height="1" fill="#ff0000"/>
<rect x="620" y="548" width="1" height="1" fill="#ff0000"/>
<rect x="658" y="548" width="1" height="1" fill="#ff0000"/>
<rect x="12" y="549" width="1" height="1" fill="#ff0000"/>
<rect x="339" y="549" width="3" height="1" fill="#ff0000"/>
<rect x="435" y="549" width="1" height="1" fill="#ff0000"/>
<rect x="620" y="549" width="1" height="1" fill="#ff0000"/>
<rect x="657" y="549" width="1" height="1" fill="#ff0000"/>
<rect x="12" y="550" width="1" height="1" fill="#ff0000"/>
<rect x="370" y="550" width="2" height="1" fill="#ff0000"/>
<rect x="399" y="550" width="3" height="1" fill="#ff0000"/>
<rect x="657" y="550" width="1" height="1" fill="#ff0000"/>
<rect x="345" y="551" width="1" height="1" fill="#ff0000"/>
<rect x="369" y="551" width="1" height="1" fill="#ff0000"/>
<rect x="375" y="551" width="2" height="1" fill="#ff0000"/>
<rect x="405" y="551" width="1" height="1" fill="#ff0000"/>
<rect x="346" y="552" width="2" height="1" fill="#ff0000"/>
<rect x="351" y="552" width="3" height="1" fill="#ff0000"/>
<rect x="365" y="552" width="1" height="1" fill="#ff0000"/>
<rect x="377" y="552" width="1" height="1" fill="#ff0000"/>
<rect x="406" y="552" width="2" height="1" fill="#ff0000"/>
<rect x="357" y="553" width="3" height="1" fill="#ff0000"/>
<rect x="363" y="553" width="2" height="1" fill="#ff0000"/>
<rect x="381" y="553" width="1" height="1" fill="#ff0000"/>
<rect x="394" y="553" width="2" height="1" fill="#ff0000"/>
<rect x="431" y="553" width="1" height="1" fill="#ff0000"/>
<rect x="622" y="553" width="1" height="1" fill="#ff0000"/>
<rect x="10" y="554" width="1" height="1" fill="#ff0000"/>
<rect x="382" y="554" width="2" height="1" fill="#ff0000"/>
<rect x="387" y="554" width="3" height="1" fill="#ff0000"/>
<rect x="393" y="554" width="1" height="1" fill="#ff0000"/>
<rect x="411" y="554" width="1" height="1" fill="#ff0000"/>
<rect x="430" y="554" width="1" height="1" fill="#ff0000"/>
<rect x="623" y="554" width="1" height="1" fill="#ff0000"/>
<rect x="654" y="554" width="1" height="1" fill="#ff0000"/>
<rect x="10" y="555" width="1" height="1" fill="#ff0000"/>
<rect x="412" y="555" width="1" height="1" fill="#ff0000"/>
<rect x="429" y="555" width="1" height="1" fill="#ff0000"/>
<rect x="624" y="555" width="1" height="1" fill="#ff0000"/>
<rect x="653" y="555" width="1" height="1" fill="#ff0000"/>
<rect x="10" y="556" width="1" height="1" fill="#ff0000"/>
<rect x="413" y="556" width="1" height="1" fill="#ff0000"/>
<rect x="652" y="556" width="1" height="1" fill="#ff0000"/>
<rect x="417" y="558" width="1" height="1" fill="#ff0000"/>
<rect x="425" y="558" width="1" height="1" fill="#ff0000"/>
<rect x="628" y="558" width="2" height="1" fill="#ff0000"/>
<rect x="640" y="558" width="3" height="1" fill="#ff0000"/>
<rect x="646" y="558" width="3" height="1" fill="#ff0000"/>
<rect x="418" y="559" width="2" height="1" fill="#ff0000"/>
<rect x="423" y="559" width="2" height="1" fill="#ff0000"/>
<rect x="630" y="559" width="1" height="1" fill="#ff0000"/>
<rect x="634" y="559" width="3" height="1" fill="#ff0000"/>
<rect x="8" y="560" width="1" height="1" fill="#ff0000"/>
<rect x="8" y="561" width="1" height="1" fill="#ff0000"/>
<rect x="8" y="562" width="1" height="1" fill="#ff0000"/>
<rect x="6" y="566" width="1" height="1" fill="#ff0000"/>
<rect x="6" y="567" width="1" height="1" fill="#ff0000"/>
<rect x="5" y="568" width="1" height="1" fill="#ff0000"/>
<rect x="4" y="572" width="1" height="1" fill="#ff0000"/>
<rect x="3" y="573" width="1" height="1" fill="#ff0000"/>
<rect x="3" y="574" width="1" height="1" fill="#ff0000"/>
<rect x="758" y="0" width="42" height="600" fill="#fffafa"/>
<rect x="0" y="583" width="800" height="17" fill="#fffafa"/>
<rect x="2" y="2" width="756" height="1" fill="#000"/>
<rect x="2" y="447" width="756" height="1" fill="#000"/>
<rect x="2" y="2" width="1" height="446" fill="#000"/>
<rect x="757" y="2" width="1" height="446" fill="#000"/>
<rect x="2" y="449" width="756" height="1" fill="#000"/>
<rect x="2" y="582" width="756" height="1" fill="#000"/>
<rect x="2" y="449" width="1" height="134" fill="#000"/>
<rect x="757" y="449" width="1" height="134" fill="#000"/>
<rect x="758" y="15" width="2" height="1" fill="#000"/>
<text x="762.56" y="18" font-family="Liberation Sans, sans-serif" font-size="10" text-rendering="geometricPrecision" fill="#000" stroke="#000" stroke-width="0.15" textLength="33.32" lengthAdjust="spacingAndGlyphs">1178.20</text>
<rect x="758" y="48" width="2" height="1" fill="#000"/>
<text x="762.56" y="51" font-family="Liberation Sans, sans-serif" font-size="10" text-rendering="geometricPrecision" fill="#000" stroke="#000" stroke-width="0.15" textLength="33.32" lengthAdjust="spacingAndGlyphs">1172.35</text>
<rect x="758" y="81" width="2" height="1" fill="#000"/>
<text x="762.56" y="84" font-family="Liberation Sans, sans-serif" font-size="10" text-rendering="geometricPrecision" fill="#000" stroke="#000" stroke-width="0.15" textLength="33.32" lengthAdjust="spacingAndGlyphs">1166.50</text>
<rect x="758" y="114" width="2" height="1" fill="#000"/>
<text x="762.56" y="117" font-family="Liberation Sans, sans-serif" font-size="10" text-rendering="geometricPrecision" fill="#000" stroke="#000" stroke-width="0.15" textLength="33.32" lengthAdjust="spacingAndGlyphs">1160.65</text>
<rect x="758" y="147" width="2" height="1" fill="#000"/>
<text x="762.56" y="150" font-family="Liberation Sans, sans-serif" font-size="10" text-rendering="geometricPrecision" fill="#000" stroke="#000" stroke-width="0.15" textLength="33.32" lengthAdjust="spacingAndGlyphs">1154.80</text>
<rect x="758" y="180" width="2" height="1" fill="#000"/>
<text x="762.56" y="183" font-family="Liberation Sans, sans-serif" font-size="10" text-rendering="geometricPrecision" fill="#000" stroke="#000" stroke-width="0.15" textLength="33.32" lengthAdjust="spacingAndGlyphs">1148.95</text>
<rect x="758" y="213" width="2" height="1" fill="#000"/>
<text x="762.56" y="216" font-family="Liberation Sans, sans-serif" font-size="10" text-rendering="geometricPrecision" fill="#000" stroke="#000" stroke-width="0.15" textLength="33.32" lengthAdjust="spacingAndGlyphs">1143.10</text>
<rect x="758" y="246" width="2" height="1" fill="#000"/>
<text x="762.56" y="249" font-family="Liberation Sans, sans-serif" font-size="10" text-rendering="geometricPrecision" fill="#000" stroke="#000" stroke-width="0.15" textLength="33.32" lengthAdjust="spacingAndGlyphs">1137.25</text>
<rect x="758" y="279" width="2" height="1" fill="#000"/>
<text x="762.56" y="282" font-family="Liberation Sans, sans-serif" font-size="10" text-rendering="geometricPrecision" fill="#000" stroke="#000" stroke-width="0.15" textLength="33.32" lengthAdjust="spacingAndGlyphs">1131.40</text>
<rect x="758" y="312" width="2" height="1" fill="#000"/>
<text x="762.56" y="315" font-family="Liberation Sans, sans-serif" font-size="10" text-rendering="geometricPrecision" fill="#000" stroke="#000" stroke-width="0.15" textLength="33.32" lengthAdjust="spacingAndGlyphs">1125.55</text>
<rect x="758" y="345" width="2" height="1" fill="#000"/>
<text x="762.53" y="348" font-family="Liberation Sans, sans-serif" font-size="10" text-rendering="geometricPrecision" fill="#000" stroke="#000" stroke-width="0.15" textLength="33.62" lengthAdjust="spacingAndGlyphs">1119.70</text>
<rect x="758" y="378" width="2" height="1" fill="#000"/>
<text x="762.53" y="381" font-family="Liberation Sans, sans-serif" font-size="10" text-rendering="geometricPrecision" fill="#000" stroke="#000" stroke-width="0.15" textLength="33.62" lengthAdjust="spacingAndGlyphs">1113.85</text>
<rect x="758" y="411" width="2" height="1" fill="#000"/>
<text x="762.56" y="414" font-family="Liberation Sans, sans-serif" font-size="10" text-rendering="geometricPrecision" fill="#000" stroke="#000" stroke-width="0.15" textLength="33.32" lengthAdjust="spacingAndGlyphs">1108.00</text>
<rect x="758" y="444" width="2" height="1" fill="#000"/>
<text x="762.56" y="447" font-family="Liberation Sans, sans-serif" font-size="10" text-rendering="geometricPrecision" fill="#000" stroke="#000" stroke-width="0.15" textLength="33.32" lengthAdjust="spacingAndGlyphs">1102.15</text>
<rect x="759" y="22" width="41" height="11" fill="#ff0000"/>
<text x="762.76" y="31" font-family="Liberation Sans, sans-serif" font-size="10" text-rendering="geometricPrecision" fill="#fff" stroke="#fff" stroke-width="0.15" textLength="33.32" lengthAdjust="spacingAndGlyphs">1175.88</text>
<rect x="759" y="160" width="41" height="11" fill="#ff0000"/>
<text x="762.76" y="169" font-family="Liberation Sans, sans-serif" font-size="10" text-rendering="geometricPrecision" fill="#fff" stroke="#fff" stroke-width="0.15" textLength="33.32" lengthAdjust="spacingAndGlyphs">1151.49</text>
<rect x="759" y="191" width="41" height="11" fill="#ff0000"/>
<text x="762.76" y="200" font-family="Liberation Sans, sans-serif" font-size="10" text-rendering="geometricPrecision" fill="#fff" stroke="#fff" stroke-width="0.15" textLength="33.32" lengthAdjust="spacingAndGlyphs">1145.98</text>
<rect x="759" y="246" width="41" height="11" fill="#ff0000"/>
<text x="762.76" y="255" font-family="Liberation Sans, sans-serif" font-size="10" text-rendering="geometricPrecision" fill="#fff" stroke="#fff" stroke-width="0.15" textLength="33.32" lengthAdjust="spacingAndGlyphs">1136.18</text>
<rect x="759" y="284" width="41" height="11" fill="#ff0000"/>
<text x="762.76" y="293" font-family="Liberation Sans, sans-serif" font-size="10" text-rendering="geometricPrecision" fill="#fff" stroke="#fff" stroke-width="0.15" textLength="33.32" lengthAdjust="spacingAndGlyphs">1129.52</text>
<rect x="759" y="344" width="41" height="11" fill="#ff0000"/>
<text x="762.73" y="353" font-family="Liberation Sans, sans-serif" font-size="10" text-rendering="geometricPrecision" fill="#fff" stroke="#fff" stroke-width="0.15" textLength="33.62" lengthAdjust="spacingAndGlyphs">1118.81</text>
<rect x="759" y="426" width="41" height="11" fill="#ff0000"/>
<text x="762.76" y="435" font-family="Liberation Sans, sans-serif" font-size="10" text-rendering="geometricPrecision" fill="#fff" stroke="#fff" stroke-width="0.15" textLength="33.32" lengthAdjust="spacingAndGlyphs">1104.33</text>
<rect x="759" y="71" width="41" height="11" fill="#000"/>
<rect x="758" y="77" width="1" height="1" fill="#c0c0c0"/>
<text x="762.66" y="80" font-family="Liberation Sans, sans-serif" font-size="10" text-rendering="geometricPrecision" fill="#fff" stroke="#fff" stroke-width="0.15" textLength="33.32" lengthAdjust="spacingAndGlyphs">1167.20</text>
<text x="760.82" y="460" font-family="Liberation Sans, sans-serif" font-size="10" text-rendering="geometricPrecision" fill="#000" stroke="#000" stroke-width="0.15" textLength="28.48" lengthAdjust="spacingAndGlyphs">15.178</text>
<rect x="758" y="544" width="2" height="1" fill="#000"/>
<rect x="758" y="581" width="1" height="1" fill="#000"/>
<text x="761.00" y="547" font-family="Liberation Sans, sans-serif" font-size="10" text-rendering="geometricPrecision" fill="#000" stroke="#000" stroke-width="0.15" textLength="18.03" lengthAdjust="spacingAndGlyphs">0.00</text>
<text x="761.00" y="579" font-family="Liberation Sans, sans-serif" font-size="10" text-rendering="geometricPrecision" fill="#000" stroke="#000" stroke-width="0.15" textLength="26.13" lengthAdjust="spacingAndGlyphs">-6.127</text>
<rect x="3" y="583" width="1" height="3" fill="#000"/>
<text x="2.25" y="595" font-family="Liberation Sans, sans-serif" font-size="10" text-rendering="geometricPrecision" fill="#000" stroke="#000" stroke-width="0.15" textLength="45.43" lengthAdjust="spacingAndGlyphs">2 Oct 2015</text>
<rect x="67" y="583" width="1" height="3" fill="#000"/>
<text x="65.05" y="595" font-family="Liberation Sans, sans-serif" font-size="10" text-rendering="geometricPrecision" fill="#000" stroke="#000" stroke-width="0.15" textLength="49.07" lengthAdjust="spacingAndGlyphs">5 Oct 06:00</text>
<rect x="131" y="583" width="1" height="3" fill="#000"/>
<text x="129.05" y="595" font-family="Liberation Sans, sans-serif" font-size="10" text-rendering="geometricPrecision" fill="#000" stroke="#000" stroke-width="0.15" textLength="49.07" lengthAdjust="spacingAndGlyphs">5 Oct 22:00</text>
<rect x="195" y="583" width="1" height="3" fill="#000"/>
<text x="194.00" y="595" font-family="Liberation Sans, sans-serif" font-size="10" text-rendering="geometricPrecision" fill="#000" stroke="#000" stroke-width="0.15" textLength="48.12" lengthAdjust="spacingAndGlyphs">6 Oct 15:00</text>
<rect x="259" y="583" width="1" height="3" fill="#000"/>
<text x="257.05" y="595" font-family="Liberation Sans, sans-serif" font-size="10" text-rendering="geometricPrecision" fill="#000" stroke="#000" stroke-width="0.15" textLength="49.07" lengthAdjust="spacingAndGlyphs">7 Oct 08:00</text>
<rect x="323" y="583" width="1" height="3" fill="#000"/>
<text x="322.00" y="595" font-family="Liberation Sans, sans-serif" font-size="10" text-rendering="geometricPrecision" fill="#000" stroke="#000" stroke-width="0.15" textLength="48.12" lengthAdjust="spacingAndGlyphs">8 Oct 01:00</text>
<rect x="387" y="583" width="1" height="3" fill="#000"/>
<text x="386.00" y="595" font-family="Liberation Sans, sans-serif" font-size="10" text-rendering="geometricPrecision" fill="#000" stroke="#000" stroke-width="0.15" textLength="48.12" lengthAdjust="spacingAndGlyphs">8 Oct 17:00</text>
<rect x="451" y="583" width="1" height="3" fill="#000"/>
<text x="450.00" y="595" font-family="Liberation Sans, sans-serif" font-size="10" text-rendering="geometricPrecision" fill="#000" stroke="#000" stroke-width="0.15" textLength="48.12" lengthAdjust="spacingAndGlyphs">9 Oct 10:00</text>
<rect x="515" y="583" width="1" height="3" fill="#000"/>
<text x="513.55" y="595" font-family="Liberation Sans, sans-serif" font-size="10" text-rendering="geometricPrecision" fill="#000" stroke="#000" stroke-width="0.15" textLength="54.20" lengthAdjust="spacingAndGlyphs">12 Oct 03:00</text>
<rect x="579" y="583" width="1" height="3" fill="#000"/>
<text x="577.55" y="595" font-family="Liberation Sans, sans-serif" font-size="10" text-rendering="geometricPrecision" fill="#000" stroke="#000" stroke-width="0.15" textLength="54.20" lengthAdjust="spacingAndGlyphs">12 Oct 19:00</text>
<rect x="643" y="583" width="1" height="3" fill="#000"/>
<text x="641.55" y="595" font-family="Liberation Sans, sans-serif" font-size="10" text-rendering="geometricPrecision" fill="#000" stroke="#000" stroke-width="0.15" textLength="54.20" lengthAdjust="spacingAndGlyphs">13 Oct 12:00</text>
<rect x="707" y="583" width="1" height="3" fill="#000"/>
<text x="705.55" y="595" font-family="Liberation Sans, sans-serif" font-size="10" text-rendering="geometricPrecision" fill="#000" stroke="#000" stroke-width="0.15" textLength="54.20" lengthAdjust="spacingAndGlyphs">14 Oct 05:00</text>
<path d="M6,9 L13,9 L9.5,13 Z" fill="#000" shape-rendering="auto"/>
<text x="18.40" y="14" font-family="Liberation Sans, sans-serif" font-size="10" text-rendering="geometricPrecision" fill="#000" stroke="#000" stroke-width="0.15" textLength="40.95" lengthAdjust="spacingAndGlyphs">GOLD,H1</text>
<text x="64.31" y="14" font-family="Liberation Sans, sans-serif" font-size="10" text-rendering="geometricPrecision" fill="#000" stroke="#000" stroke-width="0.15" textLength="33.32" lengthAdjust="spacingAndGlyphs">1174.40</text>
<text x="100.66" y="14" font-family="Liberation Sans, sans-serif" font-size="10" text-rendering="geometricPrecision" fill="#000" stroke="#000" stroke-width="0.15" textLength="33.32" lengthAdjust="spacingAndGlyphs">1174.60</text>
<text x="136.55" y="14" font-family="Liberation Sans, sans-serif" font-size="10" text-rendering="geometricPrecision" fill="#000" stroke="#000" stroke-width="0.15" textLength="33.64" lengthAdjust="spacingAndGlyphs">1166.40</text>
<text x="172.56" y="14" font-family="Liberation Sans, sans-serif" font-size="10" text-rendering="geometricPrecision" fill="#000" stroke="#000" stroke-width="0.15" textLength="33.32" lengthAdjust="spacingAndGlyphs">1167.20</text>
<text x="6.54" y="462" font-family="Liberation Sans, sans-serif" font-size="10" text-rendering="geometricPrecision" fill="#000" stroke="#000" stroke-width="0.15" textLength="114.35" lengthAdjust="spacingAndGlyphs">MACD(5,34,5) 5.002 6.793</text>
</svg></body></html>
